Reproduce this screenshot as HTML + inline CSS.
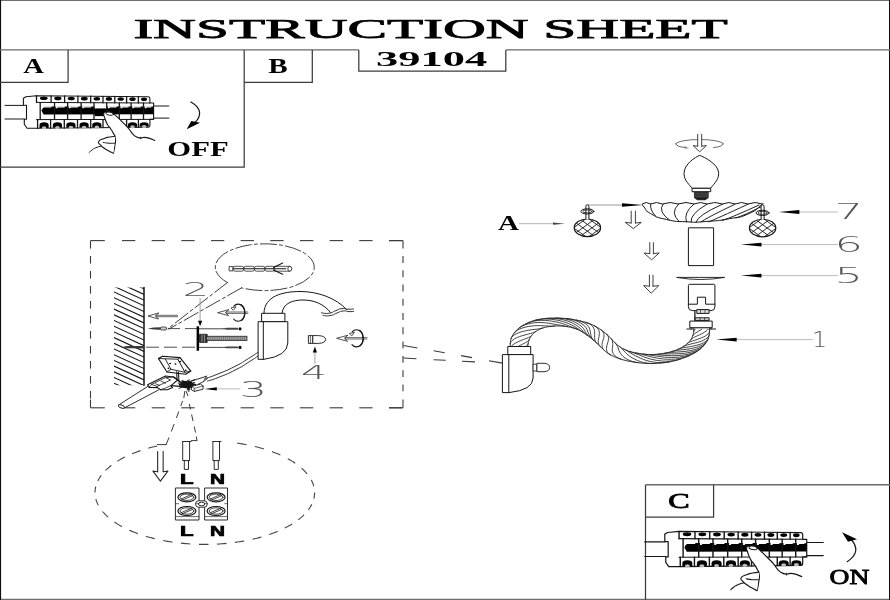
<!DOCTYPE html>
<html><head><meta charset="utf-8"><title>INSTRUCTION SHEET 39104</title>
<style>
html,body{margin:0;padding:0;background:#fff;}
body{width:890px;height:600px;overflow:hidden;}
svg{display:block;will-change:transform;}
.k{fill:none;stroke:#161616;stroke-width:1;stroke-linecap:round;stroke-linejoin:round;}
.kw{fill:#fff;stroke:#161616;stroke-width:1;stroke-linejoin:round;}
.kb{fill:#000;stroke:none;}
.t{fill:none;stroke:#2a2a2a;stroke-width:0.7;stroke-linecap:round;stroke-linejoin:round;}
.tw{fill:#fff;stroke:#2a2a2a;stroke-width:0.7;stroke-linejoin:round;}
.fr{fill:none;stroke:#3c3c3c;stroke-width:1.25;}
.g{fill:none;stroke:#b4b4b4;stroke-width:0.9;}
.d{fill:none;stroke:#3a3a3a;stroke-width:1.1;}
.serif{font-family:"Liberation Serif",serif;fill:#000;}
.sb{font-family:"Liberation Serif",serif;font-weight:bold;fill:#000;}
.sans{font-family:"Liberation Sans",sans-serif;font-weight:bold;fill:#000;}
.dg{font-family:"DejaVu Sans","Liberation Sans",sans-serif;font-weight:200;fill:#555;}
</style></head><body>
<svg width="890" height="600" viewBox="0 0 890 600">
<rect x="0" y="0" width="890" height="600" fill="#fff"/>
<line class="fr" x1="0" y1="0.5" x2="890" y2="0.5" style="stroke:#707070;stroke-width:1.2"/>
<line class="fr" x1="0" y1="599.4" x2="890" y2="599.4" style="stroke:#707070;stroke-width:1.2"/>
<line class="fr" x1="0.55" y1="0" x2="0.55" y2="600" style="stroke:#111;stroke-width:1.1"/>
<line class="fr" x1="889.5" y1="0" x2="889.5" y2="600" style="stroke:#111;stroke-width:1"/>
<path class="fr" d="M0,49.9 H358.8 M505.8,49.9 H890" style="stroke:#6a6a6a;stroke-width:1.4"/>
<path class="fr" d="M358.8,49.9 V71.2 H505.8 V49.9"/>
<path class="fr" d="M0,82.3 H68.1 V50"/>
<path class="fr" d="M0,167.2 H244.2 V50"/>
<path class="fr" d="M244.2,82.3 H312.3 V50"/>
<path class="fr" d="M645.5,484.8 H890" style="stroke:#6a6a6a;stroke-width:1.4"/>
<path class="fr" d="M645.5,600 V484.8"/>
<path class="fr" d="M645.5,517.2 H713.6 V484.8"/>
<text class="serif" x="133.4" y="38" font-size="27.8" textLength="594.4" lengthAdjust="spacingAndGlyphs" stroke="#000" stroke-width="0.75">INSTRUCTION SHEET</text>
<text class="sb" x="376" y="66.4" font-size="21.3" textLength="111.2" lengthAdjust="spacingAndGlyphs">39104</text>
<text class="sb" x="23.2" y="72.8" font-size="20.7" textLength="20.6" lengthAdjust="spacingAndGlyphs">A</text>
<text class="sb" x="268.2" y="72.7" font-size="20" textLength="19.4" lengthAdjust="spacingAndGlyphs">B</text>
<text class="serif" x="668.3" y="507.8" font-size="20.4" textLength="21.4" lengthAdjust="spacingAndGlyphs" stroke="#000" stroke-width="0.8">C</text>
<text class="sb" x="167.3" y="155.6" font-size="21.6" textLength="61.4" lengthAdjust="spacingAndGlyphs">OFF</text>
<text class="serif" x="829.6" y="583.5" font-size="20.5" textLength="39.8" lengthAdjust="spacingAndGlyphs" stroke="#000" stroke-width="0.8">ON</text>
<text class="sb" x="498" y="230" font-size="21" textLength="21" lengthAdjust="spacingAndGlyphs">A</text>
<g transform="">
<line class="k" x1="5" y1="105.4" x2="23.4" y2="105.4"/>
<line class="k" x1="5" y1="119" x2="24.3" y2="119"/>
<line class="k" x1="153.6" y1="106" x2="168.8" y2="106"/>
<line class="k" x1="153.6" y1="118.1" x2="168.8" y2="118.1"/>
<path class="kw" d="M26,96.7 L36.5,95.7 L148,96.8 Q149.9,96.8 149.9,98.6 L149.9,103 L153.6,103 L153.6,119.3 L149.9,119.3 L149.9,125.4 Q149.9,127.2 148,127.2 L37.6,128.3 L27,128.3 L24.3,124.3 L24.3,119.3 L26.5,119.3 L26.5,105.2 L23.4,105.2 L23.4,98.2 Z" style="stroke-width:1.1"/>
<line class="k" x1="36.5" y1="102.4" x2="149.9" y2="103"/>
<line class="k" x1="36.5" y1="95.7" x2="36.5" y2="102.4" style="stroke-width:1.3"/>
<ellipse class="kb" cx="43.8" cy="98.27" rx="3.91" ry="1.8"/>
<line class="k" x1="51.1" y1="95.84" x2="51.1" y2="102.48" style="stroke-width:1.3"/>
<ellipse class="kb" cx="57.85" cy="98.41" rx="3.62" ry="1.8"/>
<line class="k" x1="64.6" y1="95.97" x2="64.6" y2="102.55" style="stroke-width:1.3"/>
<ellipse class="kb" cx="71.25" cy="98.54" rx="3.56" ry="1.8"/>
<line class="k" x1="77.9" y1="96.1" x2="77.9" y2="102.62" style="stroke-width:1.3"/>
<ellipse class="kb" cx="84.3" cy="98.66" rx="3.43" ry="1.8"/>
<line class="k" x1="90.7" y1="96.23" x2="90.7" y2="102.69" style="stroke-width:1.3"/>
<ellipse class="kb" cx="96.85" cy="98.79" rx="3.3" ry="1.8"/>
<line class="k" x1="103" y1="96.35" x2="103" y2="102.75" style="stroke-width:1.3"/>
<ellipse class="kb" cx="108.9" cy="98.9" rx="3.16" ry="1.8"/>
<line class="k" x1="114.8" y1="96.46" x2="114.8" y2="102.82" style="stroke-width:1.3"/>
<ellipse class="kb" cx="120.7" cy="99.02" rx="3.16" ry="1.8"/>
<line class="k" x1="126.6" y1="96.58" x2="126.6" y2="102.88" style="stroke-width:1.3"/>
<ellipse class="kb" cx="132.5" cy="99.13" rx="3.16" ry="1.8"/>
<line class="k" x1="138.4" y1="96.69" x2="138.4" y2="102.94" style="stroke-width:1.3"/>
<ellipse class="kb" cx="144.05" cy="99.25" rx="3.03" ry="1.8"/>
<line class="k" x1="40.2" y1="102.7" x2="40.2" y2="119.3" style="stroke-width:1.3"/>
<line class="k" x1="36.5" y1="119.6" x2="153.6" y2="119.4"/>
<path class="kb" d="M43.6,106.4 L153.6,106.6 L153.6,114.3 L43.6,114.6 L41.4,110.5 Z"/>
<line class="k" x1="54.5" y1="102.9" x2="54.5" y2="119.3" style="stroke-width:1.3"/>
<line class="k" x1="67.6" y1="102.9" x2="67.6" y2="119.3" style="stroke-width:1.3"/>
<line class="k" x1="81.1" y1="102.9" x2="81.1" y2="119.3" style="stroke-width:1.3"/>
<line class="k" x1="94" y1="102.9" x2="94" y2="119.3" style="stroke-width:1.3"/>
<line class="k" x1="106.7" y1="102.9" x2="106.7" y2="119.3" style="stroke-width:1.3"/>
<line class="k" x1="119.3" y1="102.9" x2="119.3" y2="119.3" style="stroke-width:1.3"/>
<line class="k" x1="131.1" y1="102.9" x2="131.1" y2="119.3" style="stroke-width:1.3"/>
<line class="k" x1="143.5" y1="102.9" x2="143.5" y2="119.3" style="stroke-width:1.3"/>
<path class="kb" d="M41.4,106.2 L41.4,108.2 L42.8,108.2 L43.6,107.4 L51.35,107.4 L51.35,106.2 Z" style="fill:#fff"/>
<path class="kb" d="M55.7,106.2 L55.7,108.2 L57.1,108.2 L57.9,107.4 L64.72,107.4 L64.72,106.2 Z" style="fill:#fff"/>
<path class="kb" d="M68.8,106.2 L68.8,108.2 L70.2,108.2 L71,107.4 L78.13,107.4 L78.13,106.2 Z" style="fill:#fff"/>
<path class="kb" d="M82.3,106.2 L82.3,108.2 L83.7,108.2 L84.5,107.4 L91.16,107.4 L91.16,106.2 Z" style="fill:#fff"/>
<path class="kb" d="M95.2,106.2 L95.2,108.2 L96.6,108.2 L97.4,107.4 L103.91,107.4 L103.91,106.2 Z" style="fill:#fff"/>
<path class="kb" d="M107.9,106.2 L107.9,108.2 L109.3,108.2 L110.1,107.4 L116.53,107.4 L116.53,106.2 Z" style="fill:#fff"/>
<path class="kb" d="M120.5,106.2 L120.5,108.2 L121.9,108.2 L122.7,107.4 L128.5,107.4 L128.5,106.2 Z" style="fill:#fff"/>
<path class="kb" d="M132.3,106.2 L132.3,108.2 L133.7,108.2 L134.5,107.4 L140.77,107.4 L140.77,106.2 Z" style="fill:#fff"/>
<path class="kb" d="M144.7,106.2 L144.7,108.2 L146.1,108.2 L146.9,107.4 L151.38,107.4 L151.38,106.2 Z" style="fill:#fff"/>
<rect x="94.8" y="106.2" width="11.3" height="2.2" fill="#fff"/>
<rect x="94.8" y="113.5" width="11.3" height="2.6" fill="#000"/>
<line class="k" x1="37.6" y1="119.6" x2="37.6" y2="128.3" style="stroke-width:1.3"/>
<path class="kb" d="M39.5,127.93 L39.5,125 Q39.5,122.3 44.1,122.3 Q48.7,122.3 48.7,125 L48.7,127.93 Z"/>
<ellipse cx="44.1" cy="127.63" rx="2.3" ry="1.5" fill="#bbb"/>
<line class="k" x1="50.6" y1="119.6" x2="50.6" y2="128.16" style="stroke-width:1.3"/>
<path class="kb" d="M52.85,127.79 L52.85,125 Q52.85,122.3 57.45,122.3 Q62.05,122.3 62.05,125 L62.05,127.79 Z"/>
<ellipse cx="57.45" cy="127.49" rx="2.3" ry="1.5" fill="#bbb"/>
<line class="k" x1="64.3" y1="119.6" x2="64.3" y2="128.01" style="stroke-width:1.3"/>
<path class="kb" d="M66.3,127.64 L66.3,125 Q66.3,122.3 70.9,122.3 Q75.5,122.3 75.5,125 L75.5,127.64 Z"/>
<ellipse cx="70.9" cy="127.34" rx="2.3" ry="1.5" fill="#bbb"/>
<line class="k" x1="77.5" y1="119.6" x2="77.5" y2="127.87" style="stroke-width:1.3"/>
<path class="kb" d="M79.5,127.5 L79.5,125 Q79.5,122.3 84.1,122.3 Q88.7,122.3 88.7,125 L88.7,127.5 Z"/>
<ellipse cx="84.1" cy="127.2" rx="2.3" ry="1.5" fill="#bbb"/>
<line class="k" x1="90.7" y1="119.6" x2="90.7" y2="127.73" style="stroke-width:1.3"/>
<path class="kb" d="M92.25,127.37 L92.25,125 Q92.25,122.3 96.85,122.3 Q101.45,122.3 101.45,125 L101.45,127.37 Z"/>
<ellipse cx="96.85" cy="127.07" rx="2.3" ry="1.5" fill="#bbb"/>
<line class="k" x1="103" y1="119.6" x2="103" y2="127.6" style="stroke-width:1.3"/>
<line class="k" x1="114.8" y1="119.6" x2="114.8" y2="127.48" style="stroke-width:1.3"/>
<line class="k" x1="126.6" y1="119.6" x2="126.6" y2="127.35" style="stroke-width:1.3"/>
<path class="kb" d="M127.9,126.99 L127.9,125 Q127.9,122.3 132.5,122.3 Q137.1,122.3 137.1,125 L137.1,126.99 Z"/>
<ellipse cx="132.5" cy="126.69" rx="2.3" ry="1.5" fill="#bbb"/>
<line class="k" x1="138.4" y1="119.6" x2="138.4" y2="127.22" style="stroke-width:1.3"/>
<path class="kb" d="M139.55,126.86 L139.55,125 Q139.55,122.3 144.15,122.3 Q148.75,122.3 148.75,125 L148.75,126.86 Z"/>
<ellipse cx="144.15" cy="126.56" rx="2.3" ry="1.5" fill="#bbb"/>
</g>
<g transform="">
<path class="kb" d="M113.4,153.3 C113.9,150.67 114.23,150.37 114.9,145.4 C115.57,140.43 115.9,142.43 115.4,138.4 C114.9,134.37 115.1,136.67 113.4,133.3 C111.7,129.93 112.33,131.33 110.3,128.3 C108.27,125.27 109.13,127.6 107.3,124.2 C105.47,120.8 105.97,121.63 104.8,118.1 C103.63,114.57 103.4,115.63 103.8,113.6 C104.2,111.57 103.93,112.6 106,112 C108.07,111.4 107.37,111.1 110,111.8 C112.63,112.5 111.1,112 113.9,114.1 C116.7,116.2 115.2,115.07 118.4,118.1 C121.6,121.13 120.13,119.8 123.5,123.2 C126.87,126.6 125.47,124.77 128.5,128.3 C131.53,131.83 129.9,130.93 132.6,133.8 C135.3,136.67 133.9,135.53 136.6,136.9 C139.3,138.27 137.33,137.67 140.7,137.9 C144.07,138.13 142,136.77 146.7,137.6 C151.4,138.43 152.1,139.47 154.8,140.4 L150,156 L113.4,156 Z" style="fill:#fff"/>
<path class="k" d="M113.4,153.3 C113.9,150.67 114.23,150.37 114.9,145.4 C115.57,140.43 115.9,142.43 115.4,138.4 C114.9,134.37 115.1,136.67 113.4,133.3 C111.7,129.93 112.33,131.33 110.3,128.3 C108.27,125.27 109.13,127.6 107.3,124.2 C105.47,120.8 105.97,121.63 104.8,118.1 C103.63,114.57 103.4,115.63 103.8,113.6 C104.2,111.57 103.93,112.6 106,112 C108.07,111.4 107.37,111.1 110,111.8 C112.63,112.5 111.1,112 113.9,114.1 C116.7,116.2 115.2,115.07 118.4,118.1 C121.6,121.13 120.13,119.8 123.5,123.2 C126.87,126.6 125.47,124.77 128.5,128.3 C131.53,131.83 129.9,130.93 132.6,133.8 C135.3,136.67 133.9,135.53 136.6,136.9 C139.3,138.27 137.33,137.67 140.7,137.9 C144.07,138.13 142,136.77 146.7,137.6 C151.4,138.43 152.1,139.47 154.8,140.4" style="stroke-width:1.1"/>
<ellipse class="k" cx="109.8" cy="113.7" rx="3.9" ry="1.6" transform="rotate(8 109.8 113.7)" style="stroke-width:0.9"/>
<line class="k" x1="140.2" y1="137.3" x2="140.9" y2="138.8"/>
<path class="kw" d="M115.4,136.3 C113.43,136.53 113.2,136.3 109.5,137 C105.8,137.7 107.9,136.93 104.3,138.4 C100.7,139.87 99.97,139.2 98.7,141.4 C97.43,143.6 98.97,142.97 100.5,145 C102.03,147.03 100.8,145.67 103.3,147.5 C105.8,149.33 104.63,148.57 108,150.5 C111.37,152.43 111.6,152.37 113.4,153.3" style="stroke-width:1.1"/>
<path class="k" d="M103.3,142.4 C105.2,142.67 105.13,142.93 109,143.2 C112.87,143.47 112.93,143.2 114.9,143.2"/>
<path class="k" d="M89.1,152.5 C90.07,151.67 89.97,151.5 92,150 C94.03,148.5 92.13,149.33 95.2,148 C98.27,146.67 99.2,146.67 101.2,146"/>
</g>
<g transform="translate(639.29 428.06) scale(1.09 1.08)">
<line class="k" x1="5" y1="105.4" x2="23.4" y2="105.4"/>
<line class="k" x1="5" y1="119" x2="24.3" y2="119"/>
<line class="k" x1="153.6" y1="106" x2="168.8" y2="106"/>
<line class="k" x1="153.6" y1="118.1" x2="168.8" y2="118.1"/>
<path class="kw" d="M26,96.7 L36.5,95.7 L148,96.8 Q149.9,96.8 149.9,98.6 L149.9,103 L153.6,103 L153.6,119.3 L149.9,119.3 L149.9,125.4 Q149.9,127.2 148,127.2 L37.6,128.3 L27,128.3 L24.3,124.3 L24.3,119.3 L26.5,119.3 L26.5,105.2 L23.4,105.2 L23.4,98.2 Z" style="stroke-width:1.1"/>
<line class="k" x1="36.5" y1="102.4" x2="149.9" y2="103"/>
<line class="k" x1="36.5" y1="95.7" x2="36.5" y2="102.4" style="stroke-width:1.3"/>
<ellipse class="kb" cx="43.8" cy="98.27" rx="3.91" ry="1.8"/>
<line class="k" x1="51.1" y1="95.84" x2="51.1" y2="102.48" style="stroke-width:1.3"/>
<ellipse class="kb" cx="57.85" cy="98.41" rx="3.62" ry="1.8"/>
<line class="k" x1="64.6" y1="95.97" x2="64.6" y2="102.55" style="stroke-width:1.3"/>
<ellipse class="kb" cx="71.25" cy="98.54" rx="3.56" ry="1.8"/>
<line class="k" x1="77.9" y1="96.1" x2="77.9" y2="102.62" style="stroke-width:1.3"/>
<ellipse class="kb" cx="84.3" cy="98.66" rx="3.43" ry="1.8"/>
<line class="k" x1="90.7" y1="96.23" x2="90.7" y2="102.69" style="stroke-width:1.3"/>
<ellipse class="kb" cx="96.85" cy="98.79" rx="3.3" ry="1.8"/>
<line class="k" x1="103" y1="96.35" x2="103" y2="102.75" style="stroke-width:1.3"/>
<ellipse class="kb" cx="108.9" cy="98.9" rx="3.16" ry="1.8"/>
<line class="k" x1="114.8" y1="96.46" x2="114.8" y2="102.82" style="stroke-width:1.3"/>
<ellipse class="kb" cx="120.7" cy="99.02" rx="3.16" ry="1.8"/>
<line class="k" x1="126.6" y1="96.58" x2="126.6" y2="102.88" style="stroke-width:1.3"/>
<ellipse class="kb" cx="132.5" cy="99.13" rx="3.16" ry="1.8"/>
<line class="k" x1="138.4" y1="96.69" x2="138.4" y2="102.94" style="stroke-width:1.3"/>
<ellipse class="kb" cx="144.05" cy="99.25" rx="3.03" ry="1.8"/>
<line class="k" x1="40.2" y1="102.7" x2="40.2" y2="119.3" style="stroke-width:1.3"/>
<line class="k" x1="36.5" y1="119.6" x2="153.6" y2="119.4"/>
<path class="kb" d="M43.6,106.4 L153.6,106.6 L153.6,114.3 L43.6,114.6 L41.4,110.5 Z"/>
<line class="k" x1="54.5" y1="102.9" x2="54.5" y2="119.3" style="stroke-width:1.3"/>
<line class="k" x1="67.6" y1="102.9" x2="67.6" y2="119.3" style="stroke-width:1.3"/>
<line class="k" x1="81.1" y1="102.9" x2="81.1" y2="119.3" style="stroke-width:1.3"/>
<line class="k" x1="94" y1="102.9" x2="94" y2="119.3" style="stroke-width:1.3"/>
<line class="k" x1="106.7" y1="102.9" x2="106.7" y2="119.3" style="stroke-width:1.3"/>
<line class="k" x1="119.3" y1="102.9" x2="119.3" y2="119.3" style="stroke-width:1.3"/>
<line class="k" x1="131.1" y1="102.9" x2="131.1" y2="119.3" style="stroke-width:1.3"/>
<line class="k" x1="143.5" y1="102.9" x2="143.5" y2="119.3" style="stroke-width:1.3"/>
<path class="kb" d="M41.4,106.2 L41.4,108.2 L42.8,108.2 L43.6,107.4 L51.35,107.4 L51.35,106.2 Z" style="fill:#fff"/>
<path class="kb" d="M55.7,106.2 L55.7,108.2 L57.1,108.2 L57.9,107.4 L64.72,107.4 L64.72,106.2 Z" style="fill:#fff"/>
<path class="kb" d="M68.8,106.2 L68.8,108.2 L70.2,108.2 L71,107.4 L78.13,107.4 L78.13,106.2 Z" style="fill:#fff"/>
<path class="kb" d="M82.3,106.2 L82.3,108.2 L83.7,108.2 L84.5,107.4 L91.16,107.4 L91.16,106.2 Z" style="fill:#fff"/>
<path class="kb" d="M95.2,106.2 L95.2,108.2 L96.6,108.2 L97.4,107.4 L103.91,107.4 L103.91,106.2 Z" style="fill:#fff"/>
<path class="kb" d="M107.9,106.2 L107.9,108.2 L109.3,108.2 L110.1,107.4 L116.53,107.4 L116.53,106.2 Z" style="fill:#fff"/>
<path class="kb" d="M120.5,106.2 L120.5,108.2 L121.9,108.2 L122.7,107.4 L128.5,107.4 L128.5,106.2 Z" style="fill:#fff"/>
<path class="kb" d="M132.3,106.2 L132.3,108.2 L133.7,108.2 L134.5,107.4 L140.77,107.4 L140.77,106.2 Z" style="fill:#fff"/>
<path class="kb" d="M144.7,106.2 L144.7,108.2 L146.1,108.2 L146.9,107.4 L151.38,107.4 L151.38,106.2 Z" style="fill:#fff"/>
<line class="k" x1="37.6" y1="119.6" x2="37.6" y2="128.3" style="stroke-width:1.3"/>
<path class="kb" d="M39.5,127.93 L39.5,125 Q39.5,122.3 44.1,122.3 Q48.7,122.3 48.7,125 L48.7,127.93 Z"/>
<ellipse cx="44.1" cy="127.63" rx="2.3" ry="1.5" fill="#bbb"/>
<line class="k" x1="50.6" y1="119.6" x2="50.6" y2="128.16" style="stroke-width:1.3"/>
<path class="kb" d="M52.85,127.79 L52.85,125 Q52.85,122.3 57.45,122.3 Q62.05,122.3 62.05,125 L62.05,127.79 Z"/>
<ellipse cx="57.45" cy="127.49" rx="2.3" ry="1.5" fill="#bbb"/>
<line class="k" x1="64.3" y1="119.6" x2="64.3" y2="128.01" style="stroke-width:1.3"/>
<path class="kb" d="M66.3,127.64 L66.3,125 Q66.3,122.3 70.9,122.3 Q75.5,122.3 75.5,125 L75.5,127.64 Z"/>
<ellipse cx="70.9" cy="127.34" rx="2.3" ry="1.5" fill="#bbb"/>
<line class="k" x1="77.5" y1="119.6" x2="77.5" y2="127.87" style="stroke-width:1.3"/>
<path class="kb" d="M79.5,127.5 L79.5,125 Q79.5,122.3 84.1,122.3 Q88.7,122.3 88.7,125 L88.7,127.5 Z"/>
<ellipse cx="84.1" cy="127.2" rx="2.3" ry="1.5" fill="#bbb"/>
<line class="k" x1="90.7" y1="119.6" x2="90.7" y2="127.73" style="stroke-width:1.3"/>
<path class="kb" d="M92.25,127.37 L92.25,125 Q92.25,122.3 96.85,122.3 Q101.45,122.3 101.45,125 L101.45,127.37 Z"/>
<ellipse cx="96.85" cy="127.07" rx="2.3" ry="1.5" fill="#bbb"/>
<line class="k" x1="103" y1="119.6" x2="103" y2="127.6" style="stroke-width:1.3"/>
<line class="k" x1="114.8" y1="119.6" x2="114.8" y2="127.48" style="stroke-width:1.3"/>
<line class="k" x1="126.6" y1="119.6" x2="126.6" y2="127.35" style="stroke-width:1.3"/>
<path class="kb" d="M127.9,126.99 L127.9,125 Q127.9,122.3 132.5,122.3 Q137.1,122.3 137.1,125 L137.1,126.99 Z"/>
<ellipse cx="132.5" cy="126.69" rx="2.3" ry="1.5" fill="#bbb"/>
<line class="k" x1="138.4" y1="119.6" x2="138.4" y2="127.22" style="stroke-width:1.3"/>
<path class="kb" d="M139.55,126.86 L139.55,125 Q139.55,122.3 144.15,122.3 Q148.75,122.3 148.75,125 L148.75,126.86 Z"/>
<ellipse cx="144.15" cy="126.56" rx="2.3" ry="1.5" fill="#bbb"/>
</g>
<g transform="translate(634.58 425.04) scale(1.08)">
<path class="kb" d="M113.4,153.3 C113.9,150.67 114.23,150.37 114.9,145.4 C115.57,140.43 115.9,142.43 115.4,138.4 C114.9,134.37 115.1,136.67 113.4,133.3 C111.7,129.93 112.33,131.33 110.3,128.3 C108.27,125.27 109.13,127.6 107.3,124.2 C105.47,120.8 105.97,121.63 104.8,118.1 C103.63,114.57 103.4,115.63 103.8,113.6 C104.2,111.57 103.93,112.6 106,112 C108.07,111.4 107.37,111.1 110,111.8 C112.63,112.5 111.1,112 113.9,114.1 C116.7,116.2 115.2,115.07 118.4,118.1 C121.6,121.13 120.13,119.8 123.5,123.2 C126.87,126.6 125.47,124.77 128.5,128.3 C131.53,131.83 129.9,130.93 132.6,133.8 C135.3,136.67 133.9,135.53 136.6,136.9 C139.3,138.27 137.33,137.67 140.7,137.9 C144.07,138.13 142,136.77 146.7,137.6 C151.4,138.43 152.1,139.47 154.8,140.4 L150,156 L113.4,156 Z" style="fill:#fff"/>
<path class="k" d="M113.4,153.3 C113.9,150.67 114.23,150.37 114.9,145.4 C115.57,140.43 115.9,142.43 115.4,138.4 C114.9,134.37 115.1,136.67 113.4,133.3 C111.7,129.93 112.33,131.33 110.3,128.3 C108.27,125.27 109.13,127.6 107.3,124.2 C105.47,120.8 105.97,121.63 104.8,118.1 C103.63,114.57 103.4,115.63 103.8,113.6 C104.2,111.57 103.93,112.6 106,112 C108.07,111.4 107.37,111.1 110,111.8 C112.63,112.5 111.1,112 113.9,114.1 C116.7,116.2 115.2,115.07 118.4,118.1 C121.6,121.13 120.13,119.8 123.5,123.2 C126.87,126.6 125.47,124.77 128.5,128.3 C131.53,131.83 129.9,130.93 132.6,133.8 C135.3,136.67 133.9,135.53 136.6,136.9 C139.3,138.27 137.33,137.67 140.7,137.9 C144.07,138.13 142,136.77 146.7,137.6 C151.4,138.43 152.1,139.47 154.8,140.4" style="stroke-width:1.1"/>
<ellipse class="k" cx="109.8" cy="113.7" rx="3.9" ry="1.6" transform="rotate(8 109.8 113.7)" style="stroke-width:0.9"/>
<line class="k" x1="140.2" y1="137.3" x2="140.9" y2="138.8"/>
<path class="kw" d="M115.4,136.3 C113.43,136.53 113.2,136.3 109.5,137 C105.8,137.7 107.9,136.93 104.3,138.4 C100.7,139.87 99.97,139.2 98.7,141.4 C97.43,143.6 98.97,142.97 100.5,145 C102.03,147.03 100.8,145.67 103.3,147.5 C105.8,149.33 104.63,148.57 108,150.5 C111.37,152.43 111.6,152.37 113.4,153.3" style="stroke-width:1.1"/>
<path class="k" d="M103.3,142.4 C105.2,142.67 105.13,142.93 109,143.2 C112.87,143.47 112.93,143.2 114.9,143.2"/>
<path class="k" d="M89.1,152.5 C90.07,151.67 89.97,151.5 92,150 C94.03,148.5 92.13,149.33 95.2,148 C98.27,146.67 99.2,146.67 101.2,146"/>
</g>
<path class="k" d="M190.9,102 Q199,106.5 199.6,112.7 Q199.8,118 195.3,122" style="stroke-width:1.2"/>
<path class="kb" d="M186.7,129.3 L191.3,120.9 L200,122.7 Z"/>
<path class="k" d="M847.2,561.7 Q855,556.5 855.8,550.5 Q856,545 851.7,540" style="stroke-width:1.2"/>
<path class="kb" d="M842,532.2 L857,539.2 L848,541.8 Z"/>
<path class="t" d="M675.8,143.8 A23.8,4.6 0 0 1 723.3,143.8"/>
<path class="t" d="M675.8,143.8 Q676.5,147 686,147.6"/>
<path class="t" d="M723.3,143.8 Q722.6,147 713.5,147.5"/>
<path class="t" d="M684.5,146.2 L688.5,148 L684.8,148.8" style="stroke:#999"/>
<rect x="697.6" y="134.2" width="4.2" height="12.4" fill="#fff"/>
<path class="t" d="M697.7,134.3 V146.2" style="stroke-width:0.9"/>
<path class="t" d="M701.7,134.3 V146.2" style="stroke-width:0.9"/>
<path class="t" d="M697.7,146.2 L693.1,145.6 L699.7,151.8 L706.3,145.6 L701.7,146.2" style="stroke-width:0.9"/>
<path class="kw" d="M699.7,155.4 C704,157 718.7,164 718.7,173.5 C718.7,181 712,185.5 710.7,188.3 H692 C690.5,185.5 684,181 684,173.5 C684,164 695.5,157 699.7,155.4 Z"/>
<rect class="kw" x="692" y="188.3" width="18.7" height="3.4"/>
<path class="kb" d="M694,191.7 H708.7 V197.7 L705.3,200.3 H697.3 L694,197.7 Z" style="fill:#222"/>
<line class="t" x1="694" y1="193.2" x2="708.7" y2="193.2" style="stroke:#777;stroke-width:0.5"/>
<line class="t" x1="694" y1="194.9" x2="708.7" y2="194.9" style="stroke:#777;stroke-width:0.5"/>
<line class="t" x1="694" y1="196.6" x2="708.7" y2="196.6" style="stroke:#777;stroke-width:0.5"/>
<path class="kw" d="M642.1,204 Q646.3,201 650.5,204 Q656.5,201 662.5,204 Q670.25,201 678,204 Q686,201 694,204 Q700.5,201 707,204 Q714.75,201 722.5,204 Q728.75,201 735,204 Q741.5,201 748,204 Q755.2,201 762.4,204 L762.4,204 C761.87,204.47 765.5,202.1 760.8,205.4 C756.1,208.7 758.77,209.47 748.3,213.9 C737.83,218.33 743.57,216.17 729.4,218.7 C715.23,221.23 719.97,220.47 705.8,221.5 C691.63,222.53 700,222.47 686.9,221.8 C673.8,221.13 678.57,222.23 666.5,219.5 C654.43,216.77 658.2,217.77 650.7,213.6 C643.2,209.43 646.87,210.2 644,207 C641.13,203.8 642.73,205 642.1,204 Z"/>
<path class="k" d="M650.7,204.2 Q649.5,210 655.6,216" style="stroke-width:0.95"/>
<path class="k" d="M663,204.2 Q657.5,211.5 669.6,220.2" style="stroke-width:0.95"/>
<path class="k" d="M678.6,204.2 Q669.5,212.5 679,221.4" style="stroke-width:0.95"/>
<path class="k" d="M694,204 Q683,213 686.5,221.8" style="stroke-width:0.95"/>
<path class="k" d="M707,204.2 Q690,214 691,221.9" style="stroke-width:0.95"/>
<path class="k" d="M722.5,204.2 Q698,215 696,222" style="stroke-width:0.95"/>
<path class="k" d="M735,204.2 Q706,218 701,222" style="stroke-width:0.95"/>
<path class="k" d="M748,204.2 Q716,219 709,221.8" style="stroke-width:0.95"/>
<path class="k" d="M759,205 Q733,217 722,220.6" style="stroke-width:0.95"/>
<path class="k" d="M761.5,206.5 Q745,215 736,218" style="stroke-width:0.95"/>
<clipPath id="cc1"><ellipse cx="587.4" cy="227.8" rx="13.2" ry="8.8"/></clipPath>
<ellipse cx="587.4" cy="227.8" rx="13.2" ry="8.8" fill="#fff"/>
<g clip-path="url(#cc1)">
<line class="k" x1="527.6" y1="241.2" x2="564.4" y2="214.4" style="stroke-width:0.9"/>
<line class="k" x1="527.6" y1="214.4" x2="564.4" y2="241.2" style="stroke-width:0.9"/>
<line class="k" x1="536.8" y1="241.2" x2="573.6" y2="214.4" style="stroke-width:0.9"/>
<line class="k" x1="536.8" y1="214.4" x2="573.6" y2="241.2" style="stroke-width:0.9"/>
<line class="k" x1="546" y1="241.2" x2="582.8" y2="214.4" style="stroke-width:0.9"/>
<line class="k" x1="546" y1="214.4" x2="582.8" y2="241.2" style="stroke-width:0.9"/>
<line class="k" x1="555.2" y1="241.2" x2="592" y2="214.4" style="stroke-width:0.9"/>
<line class="k" x1="555.2" y1="214.4" x2="592" y2="241.2" style="stroke-width:0.9"/>
<line class="k" x1="564.4" y1="241.2" x2="601.2" y2="214.4" style="stroke-width:0.9"/>
<line class="k" x1="564.4" y1="214.4" x2="601.2" y2="241.2" style="stroke-width:0.9"/>
<line class="k" x1="573.6" y1="241.2" x2="610.4" y2="214.4" style="stroke-width:0.9"/>
<line class="k" x1="573.6" y1="214.4" x2="610.4" y2="241.2" style="stroke-width:0.9"/>
<line class="k" x1="582.8" y1="241.2" x2="619.6" y2="214.4" style="stroke-width:0.9"/>
<line class="k" x1="582.8" y1="214.4" x2="619.6" y2="241.2" style="stroke-width:0.9"/>
<line class="k" x1="592" y1="241.2" x2="628.8" y2="214.4" style="stroke-width:0.9"/>
<line class="k" x1="592" y1="214.4" x2="628.8" y2="241.2" style="stroke-width:0.9"/>
<line class="k" x1="601.2" y1="241.2" x2="638" y2="214.4" style="stroke-width:0.9"/>
<line class="k" x1="601.2" y1="214.4" x2="638" y2="241.2" style="stroke-width:0.9"/>
<line class="k" x1="610.4" y1="241.2" x2="647.2" y2="214.4" style="stroke-width:0.9"/>
<line class="k" x1="610.4" y1="214.4" x2="647.2" y2="241.2" style="stroke-width:0.9"/>
<line class="k" x1="619.6" y1="241.2" x2="656.4" y2="214.4" style="stroke-width:0.9"/>
<line class="k" x1="619.6" y1="214.4" x2="656.4" y2="241.2" style="stroke-width:0.9"/>
</g>
<ellipse class="k" cx="587.4" cy="227.8" rx="13.2" ry="8.8" style="stroke-width:1.15"/>
<path class="kw" d="M585.9,219.5 V206.4 Q585.9,204.8 587.4,204.8 Q588.9,204.8 588.9,206.4 V219.5" style="stroke-width:1"/>
<ellipse class="k" cx="587.4" cy="211.4" rx="6.5" ry="2.6" style="stroke-width:1"/>
<ellipse class="k" cx="587.4" cy="211.4" rx="4.6" ry="1.5" style="stroke-width:0.8"/>
<clipPath id="cc2"><ellipse cx="762.6" cy="228" rx="13.2" ry="8.8"/></clipPath>
<ellipse cx="762.6" cy="228" rx="13.2" ry="8.8" fill="#fff"/>
<g clip-path="url(#cc2)">
<line class="k" x1="702.8" y1="241.4" x2="739.6" y2="214.6" style="stroke-width:0.9"/>
<line class="k" x1="702.8" y1="214.6" x2="739.6" y2="241.4" style="stroke-width:0.9"/>
<line class="k" x1="712" y1="241.4" x2="748.8" y2="214.6" style="stroke-width:0.9"/>
<line class="k" x1="712" y1="214.6" x2="748.8" y2="241.4" style="stroke-width:0.9"/>
<line class="k" x1="721.2" y1="241.4" x2="758" y2="214.6" style="stroke-width:0.9"/>
<line class="k" x1="721.2" y1="214.6" x2="758" y2="241.4" style="stroke-width:0.9"/>
<line class="k" x1="730.4" y1="241.4" x2="767.2" y2="214.6" style="stroke-width:0.9"/>
<line class="k" x1="730.4" y1="214.6" x2="767.2" y2="241.4" style="stroke-width:0.9"/>
<line class="k" x1="739.6" y1="241.4" x2="776.4" y2="214.6" style="stroke-width:0.9"/>
<line class="k" x1="739.6" y1="214.6" x2="776.4" y2="241.4" style="stroke-width:0.9"/>
<line class="k" x1="748.8" y1="241.4" x2="785.6" y2="214.6" style="stroke-width:0.9"/>
<line class="k" x1="748.8" y1="214.6" x2="785.6" y2="241.4" style="stroke-width:0.9"/>
<line class="k" x1="758" y1="241.4" x2="794.8" y2="214.6" style="stroke-width:0.9"/>
<line class="k" x1="758" y1="214.6" x2="794.8" y2="241.4" style="stroke-width:0.9"/>
<line class="k" x1="767.2" y1="241.4" x2="804" y2="214.6" style="stroke-width:0.9"/>
<line class="k" x1="767.2" y1="214.6" x2="804" y2="241.4" style="stroke-width:0.9"/>
<line class="k" x1="776.4" y1="241.4" x2="813.2" y2="214.6" style="stroke-width:0.9"/>
<line class="k" x1="776.4" y1="214.6" x2="813.2" y2="241.4" style="stroke-width:0.9"/>
<line class="k" x1="785.6" y1="241.4" x2="822.4" y2="214.6" style="stroke-width:0.9"/>
<line class="k" x1="785.6" y1="214.6" x2="822.4" y2="241.4" style="stroke-width:0.9"/>
<line class="k" x1="794.8" y1="241.4" x2="831.6" y2="214.6" style="stroke-width:0.9"/>
<line class="k" x1="794.8" y1="214.6" x2="831.6" y2="241.4" style="stroke-width:0.9"/>
</g>
<ellipse class="k" cx="762.6" cy="228" rx="13.2" ry="8.8" style="stroke-width:1.15"/>
<path class="kw" d="M761.1,219.7 V206.4 Q761.1,204.8 762.6,204.8 Q764.1,204.8 764.1,206.4 V219.7" style="stroke-width:1"/>
<ellipse class="k" cx="762.6" cy="212.9" rx="6.5" ry="2.6" style="stroke-width:1"/>
<ellipse class="k" cx="762.6" cy="212.9" rx="4.6" ry="1.5" style="stroke-width:0.8"/>
<line class="t" x1="588" y1="205" x2="622" y2="205" style="stroke:#555;stroke-width:0.6"/>
<path class="kb" d="M643,205 L622,203.3 L622,206.7 Z"/>
<line class="g" x1="519" y1="223.7" x2="553" y2="223.7" style="stroke:#aaa"/>
<path class="kb" d="M565,223.7 L553,222.6 L553,224.8 Z" style="fill:#444"/>
<path class="t" d="M631.2,211.2 V223" style="stroke-width:0.9"/>
<path class="t" d="M635.4,211.2 V223" style="stroke-width:0.9"/>
<path class="t" d="M631.2,223 L625.3,222.4 L633.3,228.6 L641.3,222.4 L635.4,223" style="stroke-width:0.9"/>
<path class="t" d="M649.8,242.6 V253.6" style="stroke-width:0.9"/>
<path class="t" d="M653.4,242.6 V253.6" style="stroke-width:0.9"/>
<path class="t" d="M649.8,253.6 L644,253 L651.6,259.8 L659.2,253 L653.4,253.6" style="stroke-width:0.9"/>
<path class="t" d="M649.4,275.2 V286.2" style="stroke-width:0.9"/>
<path class="t" d="M653,275.2 V286.2" style="stroke-width:0.9"/>
<path class="t" d="M649.4,286.2 L643.6,285.6 L651.2,293.2 L658.8,285.6 L653,286.2" style="stroke-width:0.9"/>
<rect class="kw" x="688.4" y="227.8" width="25.2" height="37.8"/>
<path class="kw" d="M676.6,277.4 H724.6 Q700.5,281.6 676.6,277.4 Z" style="stroke-width:0.9"/>
<path class="kw" d="M689.6,284.3 H713.7 Q714.9,284.3 714.9,285.5 V306.8 Q714.9,310.6 711,310.6 H692.3 Q688.4,310.6 688.4,306.8 V285.5 Q688.4,284.3 689.6,284.3 Z"/>
<path class="k" d="M688.4,304.2 H697.4 V297.2 H705.6 V304.2 H714.9"/>
<rect x="695" y="310.8" width="14" height="10" fill="#fff"/>
<line class="k" x1="694.9" y1="310.6" x2="694.9" y2="321" style="stroke-width:1.3"/>
<rect class="kw" x="696.8" y="309.6" width="12.3" height="3.8" style="fill:#ddd"/>
<line class="t" x1="700.5" y1="309.6" x2="700.5" y2="313.4"/>
<line class="t" x1="705" y1="309.6" x2="705" y2="313.4"/>
<rect class="kw" x="695.2" y="317.8" width="13.9" height="2.6" style="fill:#ddd"/>
<line class="t" x1="700" y1="317.8" x2="700" y2="320.4"/>
<line class="t" x1="704.5" y1="317.8" x2="704.5" y2="320.4"/>
<rect class="kw" x="689.8" y="321.1" width="22.4" height="6.6"/>
<line class="k" x1="686.9" y1="329" x2="715.5" y2="329" style="stroke-width:1.2"/>
<line class="k" x1="691" y1="327.7" x2="691" y2="329"/>
<line class="k" x1="711" y1="327.7" x2="711" y2="329"/>
<line class="g" x1="799.4" y1="212" x2="838" y2="212"/>
<path class="kb" d="M778.8,212 L799.4,210.1 L799.4,213.9 Z"/>
<line class="g" x1="761.5" y1="244.6" x2="838" y2="244.6"/>
<path class="kb" d="M741,244.6 L761.5,242.7 L761.5,246.5 Z"/>
<line class="g" x1="761.5" y1="275.6" x2="838" y2="275.6"/>
<path class="kb" d="M741,275.6 L761.5,273.7 L761.5,277.5 Z"/>
<line class="g" x1="736.7" y1="339.6" x2="813" y2="339.6"/>
<path class="kb" d="M716.3,339.6 L736.7,337.7 L736.7,341.5 Z"/>
<path class="kb" d="M510.17,346.82 L510.18,346.46 L510.18,346.09 L510.19,345.72 L510.2,345.35 L510.2,344.96 L510.22,344.57 L510.23,344.18 L510.25,343.78 L510.28,343.38 L510.31,342.96 L510.36,342.55 L510.41,342.14 L510.46,341.74 L510.52,341.35 L510.58,340.95 L510.65,340.55 L510.72,340.14 L510.8,339.73 L510.9,339.31 L511,338.89 L511.14,338.46 L511.3,338.02 L511.48,337.58 L511.67,337.14 L511.88,336.7 L512.09,336.26 L512.32,335.84 L512.57,335.41 L512.82,334.99 L513.08,334.58 L513.35,334.17 L513.63,333.77 L513.92,333.37 L514.21,332.96 L514.52,332.56 L514.85,332.15 L515.19,331.75 L515.53,331.35 L515.89,330.96 L516.26,330.57 L516.65,330.18 L517.05,329.8 L517.45,329.42 L517.87,329.04 L518.31,328.66 L518.76,328.28 L519.22,327.91 L519.7,327.53 L520.2,327.16 L520.71,326.78 L521.24,326.41 L521.8,326.05 L522.37,325.68 L522.97,325.32 L523.58,324.97 L524.19,324.63 L524.81,324.31 L525.43,323.99 L526.05,323.69 L526.67,323.4 L527.29,323.12 L527.92,322.84 L528.56,322.56 L529.22,322.29 L529.91,322.01 L530.62,321.73 L531.37,321.46 L532.15,321.19 L532.94,320.93 L533.73,320.68 L534.53,320.45 L535.32,320.24 L536.13,320.03 L536.94,319.83 L537.77,319.64 L538.61,319.47 L539.46,319.3 L540.33,319.14 L541.2,318.99 L542.08,318.86 L542.94,318.75 L543.8,318.66 L544.64,318.57 L545.47,318.49 L546.29,318.43 L547.1,318.37 L547.9,318.31 L548.71,318.26 L549.52,318.22 L550.34,318.18 L551.15,318.15 L551.96,318.12 L552.76,318.1 L553.56,318.08 L554.37,318.07 L555.17,318.07 L555.98,318.07 L556.79,318.07 L557.61,318.09 L558.43,318.1 L559.25,318.12 L560.08,318.15 L560.91,318.18 L561.73,318.22 L562.56,318.26 L563.37,318.32 L564.18,318.38 L564.99,318.45 L565.79,318.52 L566.6,318.6 L567.42,318.68 L568.24,318.76 L569.05,318.86 L569.87,318.96 L570.69,319.07 L571.51,319.2 L572.32,319.33 L573.11,319.46 L573.89,319.61 L574.66,319.75 L575.41,319.9 L576.16,320.05 L576.89,320.2 L577.61,320.35 L578.33,320.51 L579.04,320.67 L579.76,320.84 L580.48,321.01 L581.2,321.19 L581.93,321.37 L582.67,321.55 L583.41,321.74 L584.16,321.94 L584.9,322.14 L585.64,322.35 L586.38,322.58 L587.1,322.8 L587.83,323.04 L588.55,323.29 L589.27,323.55 L589.97,323.82 L590.67,324.09 L591.35,324.38 L592.02,324.67 L592.69,324.98 L593.34,325.28 L593.97,325.6 L594.57,325.91 L595.15,326.21 L595.71,326.52 L596.23,326.82 L596.74,327.12 L597.24,327.41 L597.73,327.71 L598.23,328.01 L598.72,328.31 L599.21,328.61 L599.7,328.92 L600.19,329.23 L600.66,329.55 L601.13,329.87 L601.59,330.2 L602.05,330.54 L602.5,330.87 L602.94,331.21 L603.37,331.54 L603.8,331.87 L604.22,332.21 L604.63,332.54 L605.04,332.88 L605.45,333.21 L605.85,333.55 L606.24,333.89 L606.63,334.23 L607.02,334.57 L607.4,334.91 L607.78,335.25 L608.17,335.6 L608.55,335.95 L608.91,336.31 L609.26,336.66 L609.6,337.02 L609.93,337.37 L610.25,337.72 L610.57,338.06 L610.88,338.4 L611.19,338.73 L611.49,339.07 L611.79,339.4 L612.09,339.72 L612.38,340.04 L612.68,340.36 L612.99,340.69 L613.31,341.03 L613.63,341.37 L613.94,341.71 L614.25,342.05 L614.56,342.38 L614.86,342.71 L615.17,343.02 L615.5,343.32 L615.83,343.61 L616.16,343.9 L616.48,344.18 L616.81,344.45 L617.14,344.72 L617.5,345 L617.88,345.29 L618.26,345.6 L618.65,345.9 L619.02,346.19 L619.38,346.47 L619.72,346.73 L620.05,346.97 L620.38,347.2 L620.7,347.42 L621.02,347.62 L621.33,347.8 L621.65,347.98 L621.97,348.16 L622.3,348.35 L622.66,348.53 L623.04,348.73 L623.45,348.93 L623.88,349.13 L624.31,349.33 L624.76,349.54 L625.21,349.73 L625.67,349.93 L626.14,350.12 L626.61,350.32 L627.09,350.5 L627.56,350.69 L628.04,350.87 L628.51,351.04 L628.99,351.2 L629.46,351.36 L629.92,351.51 L630.37,351.66 L630.83,351.79 L631.29,351.92 L631.76,352.05 L632.24,352.17 L632.72,352.29 L633.22,352.41 L633.74,352.52 L634.27,352.63 L634.81,352.74 L635.37,352.85 L635.94,352.95 L636.53,353.06 L637.13,353.17 L637.74,353.27 L638.35,353.37 L638.95,353.47 L639.55,353.56 L640.15,353.65 L640.74,353.74 L641.33,353.83 L641.92,353.9 L642.5,353.98 L643.08,354.05 L643.66,354.12 L644.23,354.18 L644.8,354.23 L645.36,354.29 L645.91,354.33 L646.46,354.37 L647.01,354.41 L647.56,354.44 L648.12,354.46 L648.68,354.48 L649.25,354.5 L649.82,354.51 L650.4,354.52 L650.98,354.52 L651.56,354.52 L652.14,354.52 L652.72,354.51 L653.31,354.49 L653.89,354.47 L654.47,354.45 L655.04,354.42 L655.61,354.39 L656.18,354.36 L656.73,354.32 L657.28,354.28 L657.82,354.23 L658.36,354.17 L658.91,354.11 L659.46,354.05 L660.01,353.98 L660.56,353.9 L661.12,353.82 L661.67,353.74 L662.24,353.65 L662.8,353.55 L663.37,353.45 L663.93,353.35 L664.5,353.25 L665.05,353.15 L665.6,353.05 L666.13,352.94 L666.67,352.83 L667.2,352.71 L667.74,352.59 L668.27,352.46 L668.81,352.33 L669.35,352.2 L669.88,352.06 L670.42,351.91 L670.95,351.77 L671.48,351.62 L672.01,351.46 L672.53,351.3 L673.04,351.14 L673.55,350.98 L674.05,350.82 L674.54,350.65 L675.02,350.48 L675.5,350.3 L675.97,350.11 L676.44,349.93 L676.91,349.74 L677.37,349.54 L677.83,349.34 L678.28,349.14 L678.74,348.93 L679.18,348.73 L679.63,348.51 L680.07,348.3 L680.5,348.08 L680.93,347.85 L681.36,347.63 L681.78,347.4 L682.19,347.17 L682.6,346.94 L683,346.71 L683.39,346.47 L683.77,346.24 L684.14,346 L684.5,345.77 L684.85,345.54 L685.17,345.31 L685.49,345.08 L685.8,344.84 L686.1,344.6 L686.4,344.35 L686.7,344.09 L687,343.83 L687.3,343.56 L687.59,343.28 L687.89,342.99 L688.18,342.7 L688.48,342.4 L688.77,342.1 L689.06,341.8 L689.33,341.51 L689.59,341.23 L689.84,340.95 L690.07,340.67 L690.3,340.4 L690.51,340.13 L690.71,339.85 L690.91,339.57 L691.09,339.29 L691.27,339.01 L691.44,338.72 L691.61,338.43 L691.76,338.14 L691.91,337.84 L692.05,337.53 L692.19,337.22 L692.33,336.91 L692.46,336.59 L692.58,336.27 L692.7,335.94 L692.81,335.62 L692.92,335.3 L693.02,334.99 L693.12,334.68 L693.2,334.38 L693.28,334.08 L693.35,333.77 L693.41,333.45 L693.47,333.12 L693.52,332.79 L693.57,332.44 L693.62,332.08 L693.67,331.73 L693.72,331.38 L693.76,331.04 L693.79,330.71 L693.82,330.38 L693.84,330.03 L693.86,329.68 L693.87,329.32 L693.89,328.95 L693.91,328.58 L709.49,328.62 L709.5,328.99 L709.51,329.36 L709.52,329.74 L709.53,330.12 L709.54,330.52 L709.53,330.92 L709.53,331.33 L709.51,331.73 L709.49,332.12 L709.47,332.51 L709.44,332.89 L709.42,333.27 L709.39,333.67 L709.35,334.08 L709.3,334.5 L709.24,334.93 L709.16,335.36 L709.08,335.79 L708.97,336.22 L708.86,336.64 L708.74,337.05 L708.61,337.45 L708.47,337.85 L708.33,338.26 L708.18,338.66 L708.02,339.07 L707.85,339.48 L707.66,339.89 L707.47,340.31 L707.26,340.73 L707.03,341.15 L706.79,341.57 L706.54,341.99 L706.28,342.4 L706,342.82 L705.7,343.24 L705.39,343.65 L705.07,344.06 L704.74,344.46 L704.41,344.85 L704.06,345.24 L703.72,345.61 L703.38,345.97 L703.04,346.33 L702.69,346.69 L702.33,347.05 L701.96,347.41 L701.58,347.78 L701.18,348.15 L700.77,348.52 L700.34,348.9 L699.89,349.27 L699.43,349.65 L698.94,350.02 L698.44,350.39 L697.93,350.76 L697.42,351.11 L696.9,351.45 L696.38,351.79 L695.85,352.11 L695.32,352.44 L694.78,352.75 L694.24,353.07 L693.69,353.38 L693.14,353.68 L692.57,353.98 L692.01,354.28 L691.43,354.57 L690.85,354.86 L690.26,355.15 L689.66,355.43 L689.06,355.71 L688.44,355.99 L687.82,356.26 L687.19,356.53 L686.55,356.8 L685.91,357.06 L685.25,357.32 L684.59,357.57 L683.92,357.82 L683.26,358.07 L682.58,358.31 L681.91,358.54 L681.23,358.77 L680.55,359 L679.87,359.22 L679.18,359.44 L678.48,359.65 L677.79,359.86 L677.08,360.06 L676.36,360.26 L675.64,360.46 L674.91,360.65 L674.17,360.84 L673.42,361.02 L672.66,361.2 L671.9,361.37 L671.14,361.53 L670.38,361.69 L669.62,361.84 L668.86,361.98 L668.09,362.11 L667.32,362.24 L666.54,362.37 L665.75,362.49 L664.95,362.6 L664.15,362.71 L663.33,362.82 L662.51,362.91 L661.68,363 L660.85,363.09 L660.01,363.16 L659.16,363.23 L658.33,363.29 L657.5,363.34 L656.67,363.38 L655.85,363.42 L655.03,363.45 L654.21,363.48 L653.39,363.5 L652.57,363.51 L651.75,363.52 L650.92,363.52 L650.1,363.52 L649.27,363.51 L648.44,363.49 L647.61,363.47 L646.78,363.44 L645.93,363.4 L645.09,363.35 L644.24,363.3 L643.4,363.23 L642.57,363.17 L641.75,363.09 L640.93,363.01 L640.13,362.92 L639.34,362.83 L638.55,362.74 L637.77,362.64 L637,362.53 L636.23,362.42 L635.47,362.31 L634.72,362.2 L633.97,362.08 L633.24,361.96 L632.51,361.84 L631.78,361.71 L631.05,361.58 L630.31,361.45 L629.56,361.31 L628.8,361.17 L628.03,361.01 L627.26,360.85 L626.48,360.68 L625.69,360.49 L624.91,360.3 L624.12,360.1 L623.34,359.89 L622.56,359.67 L621.8,359.44 L621.05,359.21 L620.32,358.97 L619.61,358.73 L618.91,358.49 L618.23,358.24 L617.57,357.99 L616.91,357.74 L616.26,357.48 L615.62,357.22 L614.99,356.96 L614.36,356.69 L613.73,356.41 L613.11,356.13 L612.49,355.85 L611.88,355.55 L611.26,355.25 L610.63,354.93 L610,354.6 L609.37,354.25 L608.75,353.87 L608.17,353.49 L607.61,353.1 L607.08,352.71 L606.58,352.32 L606.11,351.94 L605.67,351.57 L605.25,351.21 L604.87,350.86 L604.5,350.52 L604.15,350.2 L603.79,349.87 L603.43,349.54 L603.05,349.19 L602.67,348.83 L602.29,348.46 L601.92,348.09 L601.57,347.73 L601.23,347.38 L600.9,347.03 L600.56,346.69 L600.2,346.36 L599.85,346.04 L599.51,345.72 L599.17,345.41 L598.83,345.1 L598.48,344.78 L598.13,344.46 L597.77,344.13 L597.41,343.8 L597.05,343.47 L596.7,343.14 L596.35,342.82 L596.01,342.5 L595.67,342.19 L595.33,341.88 L594.99,341.57 L594.66,341.27 L594.33,340.98 L594,340.69 L593.68,340.4 L593.36,340.11 L593.03,339.82 L592.69,339.53 L592.35,339.24 L592.01,338.95 L591.66,338.66 L591.31,338.37 L590.96,338.08 L590.61,337.79 L590.25,337.51 L589.89,337.23 L589.53,336.95 L589.17,336.67 L588.8,336.4 L588.44,336.13 L588.07,335.86 L587.7,335.6 L587.32,335.34 L586.93,335.08 L586.55,334.81 L586.18,334.54 L585.79,334.27 L585.4,334 L585,333.73 L584.6,333.45 L584.2,333.18 L583.79,332.92 L583.39,332.65 L582.99,332.4 L582.61,332.15 L582.25,331.91 L581.9,331.68 L581.55,331.46 L581.2,331.25 L580.84,331.05 L580.47,330.84 L580.1,330.65 L579.71,330.45 L579.32,330.26 L578.92,330.07 L578.51,329.88 L578.09,329.69 L577.65,329.51 L577.21,329.33 L576.75,329.15 L576.29,328.98 L575.82,328.8 L575.34,328.63 L574.84,328.47 L574.32,328.31 L573.79,328.16 L573.24,328.01 L572.69,327.86 L572.13,327.71 L571.57,327.57 L571,327.43 L570.44,327.29 L569.88,327.16 L569.33,327.04 L568.78,326.92 L568.24,326.81 L567.71,326.71 L567.19,326.62 L566.66,326.53 L566.12,326.45 L565.58,326.37 L565.03,326.3 L564.47,326.23 L563.91,326.17 L563.34,326.12 L562.76,326.07 L562.18,326.03 L561.59,326 L561.02,325.97 L560.44,325.94 L559.87,325.93 L559.29,325.91 L558.72,325.9 L558.14,325.9 L557.56,325.91 L556.97,325.93 L556.38,325.95 L555.78,325.97 L555.18,326 L554.59,326.04 L553.99,326.08 L553.4,326.12 L552.81,326.16 L552.23,326.21 L551.65,326.27 L551.07,326.34 L550.49,326.41 L549.92,326.48 L549.34,326.56 L548.79,326.64 L548.25,326.72 L547.72,326.81 L547.22,326.9 L546.74,326.99 L546.28,327.09 L545.82,327.18 L545.37,327.28 L544.92,327.39 L544.48,327.51 L544.03,327.63 L543.59,327.76 L543.15,327.89 L542.72,328.04 L542.3,328.18 L541.9,328.32 L541.52,328.47 L541.14,328.62 L540.76,328.79 L540.37,328.96 L539.97,329.15 L539.56,329.35 L539.14,329.56 L538.71,329.78 L538.3,329.99 L537.9,330.21 L537.51,330.42 L537.14,330.63 L536.79,330.83 L536.45,331.04 L536.14,331.24 L535.83,331.45 L535.54,331.67 L535.24,331.89 L534.95,332.11 L534.67,332.35 L534.38,332.59 L534.11,332.84 L533.83,333.09 L533.56,333.35 L533.3,333.61 L533.04,333.88 L532.79,334.15 L532.54,334.42 L532.3,334.7 L532.06,334.97 L531.83,335.25 L531.61,335.52 L531.39,335.8 L531.19,336.08 L530.99,336.36 L530.79,336.65 L530.6,336.94 L530.41,337.24 L530.23,337.53 L530.07,337.82 L529.91,338.11 L529.77,338.39 L529.63,338.68 L529.5,338.96 L529.39,339.24 L529.28,339.52 L529.19,339.8 L529.1,340.09 L529.01,340.39 L528.91,340.7 L528.81,341.01 L528.71,341.33 L528.61,341.66 L528.52,341.99 L528.44,342.33 L528.35,342.67 L528.27,343.01 L528.19,343.34 L528.13,343.66 L528.07,343.98 L528.01,344.31 L527.96,344.65 L527.91,345 L527.86,345.35 L527.81,345.7 L527.77,346.06 L527.73,346.43 L527.68,346.8 L527.63,347.18 Z" style="fill:#fff"/>
<path class="k" d="M510.17,346.82 L510.18,346.46 L510.18,346.09 L510.19,345.72 L510.2,345.35 L510.2,344.96 L510.22,344.57 L510.23,344.18 L510.25,343.78 L510.28,343.38 L510.31,342.96 L510.36,342.55 L510.41,342.14 L510.46,341.74 L510.52,341.35 L510.58,340.95 L510.65,340.55 L510.72,340.14 L510.8,339.73 L510.9,339.31 L511,338.89 L511.14,338.46 L511.3,338.02 L511.48,337.58 L511.67,337.14 L511.88,336.7 L512.09,336.26 L512.32,335.84 L512.57,335.41 L512.82,334.99 L513.08,334.58 L513.35,334.17 L513.63,333.77 L513.92,333.37 L514.21,332.96 L514.52,332.56 L514.85,332.15 L515.19,331.75 L515.53,331.35 L515.89,330.96 L516.26,330.57 L516.65,330.18 L517.05,329.8 L517.45,329.42 L517.87,329.04 L518.31,328.66 L518.76,328.28 L519.22,327.91 L519.7,327.53 L520.2,327.16 L520.71,326.78 L521.24,326.41 L521.8,326.05 L522.37,325.68 L522.97,325.32 L523.58,324.97 L524.19,324.63 L524.81,324.31 L525.43,323.99 L526.05,323.69 L526.67,323.4 L527.29,323.12 L527.92,322.84 L528.56,322.56 L529.22,322.29 L529.91,322.01 L530.62,321.73 L531.37,321.46 L532.15,321.19 L532.94,320.93 L533.73,320.68 L534.53,320.45 L535.32,320.24 L536.13,320.03 L536.94,319.83 L537.77,319.64 L538.61,319.47 L539.46,319.3 L540.33,319.14 L541.2,318.99 L542.08,318.86 L542.94,318.75 L543.8,318.66 L544.64,318.57 L545.47,318.49 L546.29,318.43 L547.1,318.37 L547.9,318.31 L548.71,318.26 L549.52,318.22 L550.34,318.18 L551.15,318.15 L551.96,318.12 L552.76,318.1 L553.56,318.08 L554.37,318.07 L555.17,318.07 L555.98,318.07 L556.79,318.07 L557.61,318.09 L558.43,318.1 L559.25,318.12 L560.08,318.15 L560.91,318.18 L561.73,318.22 L562.56,318.26 L563.37,318.32 L564.18,318.38 L564.99,318.45 L565.79,318.52 L566.6,318.6 L567.42,318.68 L568.24,318.76 L569.05,318.86 L569.87,318.96 L570.69,319.07 L571.51,319.2 L572.32,319.33 L573.11,319.46 L573.89,319.61 L574.66,319.75 L575.41,319.9 L576.16,320.05 L576.89,320.2 L577.61,320.35 L578.33,320.51 L579.04,320.67 L579.76,320.84 L580.48,321.01 L581.2,321.19 L581.93,321.37 L582.67,321.55 L583.41,321.74 L584.16,321.94 L584.9,322.14 L585.64,322.35 L586.38,322.58 L587.1,322.8 L587.83,323.04 L588.55,323.29 L589.27,323.55 L589.97,323.82 L590.67,324.09 L591.35,324.38 L592.02,324.67 L592.69,324.98 L593.34,325.28 L593.97,325.6 L594.57,325.91 L595.15,326.21 L595.71,326.52 L596.23,326.82 L596.74,327.12 L597.24,327.41 L597.73,327.71 L598.23,328.01 L598.72,328.31 L599.21,328.61 L599.7,328.92 L600.19,329.23 L600.66,329.55 L601.13,329.87 L601.59,330.2 L602.05,330.54 L602.5,330.87 L602.94,331.21 L603.37,331.54 L603.8,331.87 L604.22,332.21 L604.63,332.54 L605.04,332.88 L605.45,333.21 L605.85,333.55 L606.24,333.89 L606.63,334.23 L607.02,334.57 L607.4,334.91 L607.78,335.25 L608.17,335.6 L608.55,335.95 L608.91,336.31 L609.26,336.66 L609.6,337.02 L609.93,337.37 L610.25,337.72 L610.57,338.06 L610.88,338.4 L611.19,338.73 L611.49,339.07 L611.79,339.4 L612.09,339.72 L612.38,340.04 L612.68,340.36 L612.99,340.69 L613.31,341.03 L613.63,341.37 L613.94,341.71 L614.25,342.05 L614.56,342.38 L614.86,342.71 L615.17,343.02 L615.5,343.32 L615.83,343.61 L616.16,343.9 L616.48,344.18 L616.81,344.45 L617.14,344.72 L617.5,345 L617.88,345.29 L618.26,345.6 L618.65,345.9 L619.02,346.19 L619.38,346.47 L619.72,346.73 L620.05,346.97 L620.38,347.2 L620.7,347.42 L621.02,347.62 L621.33,347.8 L621.65,347.98 L621.97,348.16 L622.3,348.35 L622.66,348.53 L623.04,348.73 L623.45,348.93 L623.88,349.13 L624.31,349.33 L624.76,349.54 L625.21,349.73 L625.67,349.93 L626.14,350.12 L626.61,350.32 L627.09,350.5 L627.56,350.69 L628.04,350.87 L628.51,351.04 L628.99,351.2 L629.46,351.36 L629.92,351.51 L630.37,351.66 L630.83,351.79 L631.29,351.92 L631.76,352.05 L632.24,352.17 L632.72,352.29 L633.22,352.41 L633.74,352.52 L634.27,352.63 L634.81,352.74 L635.37,352.85 L635.94,352.95 L636.53,353.06 L637.13,353.17 L637.74,353.27 L638.35,353.37 L638.95,353.47 L639.55,353.56 L640.15,353.65 L640.74,353.74 L641.33,353.83 L641.92,353.9 L642.5,353.98 L643.08,354.05 L643.66,354.12 L644.23,354.18 L644.8,354.23 L645.36,354.29 L645.91,354.33 L646.46,354.37 L647.01,354.41 L647.56,354.44 L648.12,354.46 L648.68,354.48 L649.25,354.5 L649.82,354.51 L650.4,354.52 L650.98,354.52 L651.56,354.52 L652.14,354.52 L652.72,354.51 L653.31,354.49 L653.89,354.47 L654.47,354.45 L655.04,354.42 L655.61,354.39 L656.18,354.36 L656.73,354.32 L657.28,354.28 L657.82,354.23 L658.36,354.17 L658.91,354.11 L659.46,354.05 L660.01,353.98 L660.56,353.9 L661.12,353.82 L661.67,353.74 L662.24,353.65 L662.8,353.55 L663.37,353.45 L663.93,353.35 L664.5,353.25 L665.05,353.15 L665.6,353.05 L666.13,352.94 L666.67,352.83 L667.2,352.71 L667.74,352.59 L668.27,352.46 L668.81,352.33 L669.35,352.2 L669.88,352.06 L670.42,351.91 L670.95,351.77 L671.48,351.62 L672.01,351.46 L672.53,351.3 L673.04,351.14 L673.55,350.98 L674.05,350.82 L674.54,350.65 L675.02,350.48 L675.5,350.3 L675.97,350.11 L676.44,349.93 L676.91,349.74 L677.37,349.54 L677.83,349.34 L678.28,349.14 L678.74,348.93 L679.18,348.73 L679.63,348.51 L680.07,348.3 L680.5,348.08 L680.93,347.85 L681.36,347.63 L681.78,347.4 L682.19,347.17 L682.6,346.94 L683,346.71 L683.39,346.47 L683.77,346.24 L684.14,346 L684.5,345.77 L684.85,345.54 L685.17,345.31 L685.49,345.08 L685.8,344.84 L686.1,344.6 L686.4,344.35 L686.7,344.09 L687,343.83 L687.3,343.56 L687.59,343.28 L687.89,342.99 L688.18,342.7 L688.48,342.4 L688.77,342.1 L689.06,341.8 L689.33,341.51 L689.59,341.23 L689.84,340.95 L690.07,340.67 L690.3,340.4 L690.51,340.13 L690.71,339.85 L690.91,339.57 L691.09,339.29 L691.27,339.01 L691.44,338.72 L691.61,338.43 L691.76,338.14 L691.91,337.84 L692.05,337.53 L692.19,337.22 L692.33,336.91 L692.46,336.59 L692.58,336.27 L692.7,335.94 L692.81,335.62 L692.92,335.3 L693.02,334.99 L693.12,334.68 L693.2,334.38 L693.28,334.08 L693.35,333.77 L693.41,333.45 L693.47,333.12 L693.52,332.79 L693.57,332.44 L693.62,332.08 L693.67,331.73 L693.72,331.38 L693.76,331.04 L693.79,330.71 L693.82,330.38 L693.84,330.03 L693.86,329.68 L693.87,329.32 L693.89,328.95 L693.91,328.58"/>
<path class="k" d="M527.63,347.18 L527.68,346.8 L527.73,346.43 L527.77,346.06 L527.81,345.7 L527.86,345.35 L527.91,345 L527.96,344.65 L528.01,344.31 L528.07,343.98 L528.13,343.66 L528.19,343.34 L528.27,343.01 L528.35,342.67 L528.44,342.33 L528.52,341.99 L528.61,341.66 L528.71,341.33 L528.81,341.01 L528.91,340.7 L529.01,340.39 L529.1,340.09 L529.19,339.8 L529.28,339.52 L529.39,339.24 L529.5,338.96 L529.63,338.68 L529.77,338.39 L529.91,338.11 L530.07,337.82 L530.23,337.53 L530.41,337.24 L530.6,336.94 L530.79,336.65 L530.99,336.36 L531.19,336.08 L531.39,335.8 L531.61,335.52 L531.83,335.25 L532.06,334.97 L532.3,334.7 L532.54,334.42 L532.79,334.15 L533.04,333.88 L533.3,333.61 L533.56,333.35 L533.83,333.09 L534.11,332.84 L534.38,332.59 L534.67,332.35 L534.95,332.11 L535.24,331.89 L535.54,331.67 L535.83,331.45 L536.14,331.24 L536.45,331.04 L536.79,330.83 L537.14,330.63 L537.51,330.42 L537.9,330.21 L538.3,329.99 L538.71,329.78 L539.14,329.56 L539.56,329.35 L539.97,329.15 L540.37,328.96 L540.76,328.79 L541.14,328.62 L541.52,328.47 L541.9,328.32 L542.3,328.18 L542.72,328.04 L543.15,327.89 L543.59,327.76 L544.03,327.63 L544.48,327.51 L544.92,327.39 L545.37,327.28 L545.82,327.18 L546.28,327.09 L546.74,326.99 L547.22,326.9 L547.72,326.81 L548.25,326.72 L548.79,326.64 L549.34,326.56 L549.92,326.48 L550.49,326.41 L551.07,326.34 L551.65,326.27 L552.23,326.21 L552.81,326.16 L553.4,326.12 L553.99,326.08 L554.59,326.04 L555.18,326 L555.78,325.97 L556.38,325.95 L556.97,325.93 L557.56,325.91 L558.14,325.9 L558.72,325.9 L559.29,325.91 L559.87,325.93 L560.44,325.94 L561.02,325.97 L561.59,326 L562.18,326.03 L562.76,326.07 L563.34,326.12 L563.91,326.17 L564.47,326.23 L565.03,326.3 L565.58,326.37 L566.12,326.45 L566.66,326.53 L567.19,326.62 L567.71,326.71 L568.24,326.81 L568.78,326.92 L569.33,327.04 L569.88,327.16 L570.44,327.29 L571,327.43 L571.57,327.57 L572.13,327.71 L572.69,327.86 L573.24,328.01 L573.79,328.16 L574.32,328.31 L574.84,328.47 L575.34,328.63 L575.82,328.8 L576.29,328.98 L576.75,329.15 L577.21,329.33 L577.65,329.51 L578.09,329.69 L578.51,329.88 L578.92,330.07 L579.32,330.26 L579.71,330.45 L580.1,330.65 L580.47,330.84 L580.84,331.05 L581.2,331.25 L581.55,331.46 L581.9,331.68 L582.25,331.91 L582.61,332.15 L582.99,332.4 L583.39,332.65 L583.79,332.92 L584.2,333.18 L584.6,333.45 L585,333.73 L585.4,334 L585.79,334.27 L586.18,334.54 L586.55,334.81 L586.93,335.08 L587.32,335.34 L587.7,335.6 L588.07,335.86 L588.44,336.13 L588.8,336.4 L589.17,336.67 L589.53,336.95 L589.89,337.23 L590.25,337.51 L590.61,337.79 L590.96,338.08 L591.31,338.37 L591.66,338.66 L592.01,338.95 L592.35,339.24 L592.69,339.53 L593.03,339.82 L593.36,340.11 L593.68,340.4 L594,340.69 L594.33,340.98 L594.66,341.27 L594.99,341.57 L595.33,341.88 L595.67,342.19 L596.01,342.5 L596.35,342.82 L596.7,343.14 L597.05,343.47 L597.41,343.8 L597.77,344.13 L598.13,344.46 L598.48,344.78 L598.83,345.1 L599.17,345.41 L599.51,345.72 L599.85,346.04 L600.2,346.36 L600.56,346.69 L600.9,347.03 L601.23,347.38 L601.57,347.73 L601.92,348.09 L602.29,348.46 L602.67,348.83 L603.05,349.19 L603.43,349.54 L603.79,349.87 L604.15,350.2 L604.5,350.52 L604.87,350.86 L605.25,351.21 L605.67,351.57 L606.11,351.94 L606.58,352.32 L607.08,352.71 L607.61,353.1 L608.17,353.49 L608.75,353.87 L609.37,354.25 L610,354.6 L610.63,354.93 L611.26,355.25 L611.88,355.55 L612.49,355.85 L613.11,356.13 L613.73,356.41 L614.36,356.69 L614.99,356.96 L615.62,357.22 L616.26,357.48 L616.91,357.74 L617.57,357.99 L618.23,358.24 L618.91,358.49 L619.61,358.73 L620.32,358.97 L621.05,359.21 L621.8,359.44 L622.56,359.67 L623.34,359.89 L624.12,360.1 L624.91,360.3 L625.69,360.49 L626.48,360.68 L627.26,360.85 L628.03,361.01 L628.8,361.17 L629.56,361.31 L630.31,361.45 L631.05,361.58 L631.78,361.71 L632.51,361.84 L633.24,361.96 L633.97,362.08 L634.72,362.2 L635.47,362.31 L636.23,362.42 L637,362.53 L637.77,362.64 L638.55,362.74 L639.34,362.83 L640.13,362.92 L640.93,363.01 L641.75,363.09 L642.57,363.17 L643.4,363.23 L644.24,363.3 L645.09,363.35 L645.93,363.4 L646.78,363.44 L647.61,363.47 L648.44,363.49 L649.27,363.51 L650.1,363.52 L650.92,363.52 L651.75,363.52 L652.57,363.51 L653.39,363.5 L654.21,363.48 L655.03,363.45 L655.85,363.42 L656.67,363.38 L657.5,363.34 L658.33,363.29 L659.16,363.23 L660.01,363.16 L660.85,363.09 L661.68,363 L662.51,362.91 L663.33,362.82 L664.15,362.71 L664.95,362.6 L665.75,362.49 L666.54,362.37 L667.32,362.24 L668.09,362.11 L668.86,361.98 L669.62,361.84 L670.38,361.69 L671.14,361.53 L671.9,361.37 L672.66,361.2 L673.42,361.02 L674.17,360.84 L674.91,360.65 L675.64,360.46 L676.36,360.26 L677.08,360.06 L677.79,359.86 L678.48,359.65 L679.18,359.44 L679.87,359.22 L680.55,359 L681.23,358.77 L681.91,358.54 L682.58,358.31 L683.26,358.07 L683.92,357.82 L684.59,357.57 L685.25,357.32 L685.91,357.06 L686.55,356.8 L687.19,356.53 L687.82,356.26 L688.44,355.99 L689.06,355.71 L689.66,355.43 L690.26,355.15 L690.85,354.86 L691.43,354.57 L692.01,354.28 L692.57,353.98 L693.14,353.68 L693.69,353.38 L694.24,353.07 L694.78,352.75 L695.32,352.44 L695.85,352.11 L696.38,351.79 L696.9,351.45 L697.42,351.11 L697.93,350.76 L698.44,350.39 L698.94,350.02 L699.43,349.65 L699.89,349.27 L700.34,348.9 L700.77,348.52 L701.18,348.15 L701.58,347.78 L701.96,347.41 L702.33,347.05 L702.69,346.69 L703.04,346.33 L703.38,345.97 L703.72,345.61 L704.06,345.24 L704.41,344.85 L704.74,344.46 L705.07,344.06 L705.39,343.65 L705.7,343.24 L706,342.82 L706.28,342.4 L706.54,341.99 L706.79,341.57 L707.03,341.15 L707.26,340.73 L707.47,340.31 L707.66,339.89 L707.85,339.48 L708.02,339.07 L708.18,338.66 L708.33,338.26 L708.47,337.85 L708.61,337.45 L708.74,337.05 L708.86,336.64 L708.97,336.22 L709.08,335.79 L709.16,335.36 L709.24,334.93 L709.3,334.5 L709.35,334.08 L709.39,333.67 L709.42,333.27 L709.44,332.89 L709.47,332.51 L709.49,332.12 L709.51,331.73 L709.53,331.33 L709.53,330.92 L709.54,330.52 L709.53,330.12 L709.52,329.74 L709.51,329.36 L709.5,328.99 L709.49,328.62"/>
<path class="k" d="M525.08,347.06 L526.28,346.14 L527.2,345.24 L527.83,344.37 L528.15,343.55" style="stroke-width:0.85;stroke:#222"/>
<path class="k" d="M517.2,346.88 L518.97,345.97 L520.77,345.07 L522.52,344.19 L524.2,343.36 L525.73,342.54 L527.06,341.73 L528.13,340.94 L528.89,340.19 L529.3,339.47" style="stroke-width:0.85;stroke:#222"/>
<path class="k" d="M510.84,346.7 L511.67,345.76 L512.8,344.79 L514.21,343.81 L515.86,342.85 L517.69,341.94 L519.64,341.07 L521.63,340.24 L523.59,339.48 L525.44,338.79 L527.15,338.15 L528.65,337.53 L529.91,336.88 L530.91,336.21 L531.62,335.51" style="stroke-width:0.85;stroke:#222"/>
<path class="k" d="M510.25,343.84 L510.52,342.68 L511.18,341.57 L512.19,340.49 L513.56,339.43 L515.29,338.39 L517.3,337.43 L519.5,336.59 L521.79,335.84 L524.1,335.18 L526.36,334.58 L528.5,334.04 L530.47,333.52 L532.23,333 L533.73,332.48 L534.96,331.95 L535.94,331.38" style="stroke-width:0.85;stroke:#222"/>
<path class="k" d="M511.08,338.64 L511.8,337.25 L512.99,335.94 L514.58,334.74 L516.5,333.69 L518.72,332.73 L521.16,331.9 L523.74,331.2 L526.39,330.61 L529.02,330.13 L531.55,329.76 L533.94,329.48 L536.2,329.23 L538.32,328.93 L540.18,328.61 L541.71,328.29 L543.12,327.9" style="stroke-width:0.85;stroke:#222"/>
<path class="k" d="M514,333.25 L515.38,331.75 L517.22,330.37 L519.48,329.15 L522.1,328.08 L525.03,327.18 L528.17,326.5 L531.34,326.06 L534.48,325.77 L537.53,325.62 L540.41,325.63 L543.1,325.73 L545.55,325.9 L547.85,326.05 L550.19,326.13 L552.47,326.11 L554.75,326.03" style="stroke-width:0.85;stroke:#222"/>
<path class="k" d="M518.77,328.27 L521.08,326.67 L523.99,325.25 L527.22,324.16 L530.61,323.37 L534.31,322.78 L538.11,322.5 L541.82,322.52 L545.34,322.79 L548.65,323.23 L551.79,323.73 L554.77,324.25 L557.6,324.76 L560.24,325.28 L562.79,325.78 L565.24,326.25 L567.58,326.69" style="stroke-width:0.85;stroke:#222"/>
<path class="k" d="M525.9,323.77 L529.03,322.47 L532.8,321.37 L536.91,320.64 L541.15,320.32 L545.31,320.4 L549.18,320.77 L552.87,321.32 L556.38,322 L559.68,322.79 L562.74,323.67 L565.58,324.61 L568.13,325.59 L570.56,326.6 L573.04,327.61 L575.41,328.57 L577.57,329.48" style="stroke-width:0.85;stroke:#222"/>
<path class="k" d="M534.9,320.35 L538.99,319.48 L543.34,319.04 L547.48,319.04 L551.46,319.32 L555.31,319.82 L559.02,320.52 L562.52,321.4 L565.75,322.43 L568.68,323.59 L571.3,324.86 L573.77,326.18 L576.06,327.49 L578.03,328.79 L579.76,330.04 L581.33,331.2 L582.98,332.39" style="stroke-width:0.85;stroke:#222"/>
<path class="k" d="M545.63,318.48 L549.54,318.3 L553.46,318.39 L557.3,318.74 L561.1,319.33 L564.68,320.16 L568.02,321.18 L571.06,322.41 L573.74,323.77 L576.17,325.2 L578.33,326.68 L580.14,328.19 L581.61,329.67 L582.82,331.11 L584.1,332.57 L585.67,334.04 L587.38,335.38" style="stroke-width:0.85;stroke:#222"/>
<path class="k" d="M555.91,318.07 L559.62,318.21 L563.3,318.61 L566.8,319.28 L570.16,320.18 L573.2,321.32 L575.85,322.6 L578.23,324 L580.36,325.5 L582.13,327.08 L583.5,328.69 L584.52,330.29 L585.43,331.9 L586.49,333.5 L587.64,334.99 L588.94,336.35 L590.45,337.67" style="stroke-width:0.85;stroke:#222"/>
<path class="k" d="M566.31,318.57 L569.69,319.02 L572.93,319.74 L575.81,320.69 L578.38,321.79 L580.74,323.05 L582.87,324.46 L584.63,326 L585.97,327.64 L586.89,329.31 L587.56,330.98 L588.22,332.64 L588.89,334.23 L589.63,335.7 L590.52,337.1 L591.6,338.44 L592.89,339.7" style="stroke-width:0.85;stroke:#222"/>
<path class="k" d="M576.42,320.1 L578.95,320.73 L581.34,321.56 L583.61,322.56 L585.61,323.76 L587.28,325.13 L588.54,326.63 L589.38,328.19 L589.87,329.77 L590.21,331.35 L590.49,332.9 L590.76,334.38 L591.07,335.79 L591.51,337.13 L592.12,338.39 L592.94,339.58 L593.97,340.66" style="stroke-width:0.85;stroke:#222"/>
<path class="k" d="M585.7,322.37 L588.07,323.22 L590.15,324.3 L591.85,325.57 L593.09,326.96 L593.84,328.39 L594.3,329.87 L594.57,331.39 L594.67,332.93 L594.67,334.44 L594.62,335.92 L594.61,337.36 L594.7,338.73 L594.91,340.01 L595.33,341.21 L596.05,342.37 L597.07,343.49" style="stroke-width:0.85;stroke:#222"/>
<path class="k" d="M594.46,325.85 L596.1,326.87 L597.32,327.98 L598.26,329.2 L598.9,330.53 L599.26,331.96 L599.36,333.42 L599.27,334.89 L599.06,336.36 L598.78,337.82 L598.49,339.23 L598.26,340.59 L598.2,341.91 L598.37,343.2 L598.82,344.44 L599.51,345.55 L600.48,346.61" style="stroke-width:0.85;stroke:#222"/>
<path class="k" d="M600.91,329.72 L602.17,330.78 L603.1,331.94 L603.69,333.19 L604,334.5 L604.05,335.86 L603.89,337.26 L603.54,338.69 L603.09,340.1 L602.64,341.49 L602.28,342.87 L602.07,344.21 L602,345.49 L602.15,346.74 L602.54,348.01 L603.28,349.24 L604.25,350.29" style="stroke-width:0.85;stroke:#222"/>
<path class="k" d="M606.34,333.98 L607.38,335.06 L608.12,336.25 L608.49,337.53 L608.55,338.83 L608.38,340.16 L608.07,341.51 L607.71,342.89 L607.3,344.29 L606.91,345.68 L606.63,347.1 L606.53,348.51 L606.57,349.85 L606.88,351.19 L607.66,352.56 L608.99,353.89 L610.79,355.02" style="stroke-width:0.85;stroke:#222"/>
<path class="k" d="M610.87,338.39 L611.72,339.51 L612.28,340.68 L612.64,341.96 L612.76,343.28 L612.74,344.6 L612.61,345.94 L612.48,347.36 L612.3,348.83 L612.23,350.33 L612.46,351.88 L613.14,353.43 L614.14,354.85 L615.4,356.16 L616.95,357.32 L618.81,358.34 L621.02,359.2" style="stroke-width:0.85;stroke:#222"/>
<path class="k" d="M614.77,342.61 L615.88,343.81 L616.76,345.01 L617.56,346.37 L618.06,347.73 L618.4,349.06 L618.88,350.47 L619.65,352 L620.64,353.57 L621.83,355.14 L623.31,356.68 L625.2,358.15 L627.45,359.46 L629.93,360.58 L632.48,361.47 L635.18,362.18 L638.09,362.68" style="stroke-width:0.85;stroke:#222"/>
<path class="k" d="M619.17,346.31 L620.47,347.4 L621.48,348.39 L622.58,349.54 L623.87,350.86 L625.23,352.26 L626.66,353.72 L628.28,355.18 L630.23,356.62 L632.48,358.01 L634.9,359.32 L637.52,360.53 L640.39,361.6 L643.56,362.48 L646.99,363.1 L650.49,363.43 L654,363.49" style="stroke-width:0.85;stroke:#222"/>
<path class="k" d="M623.52,348.96 L625.48,349.96 L627.41,351.05 L629.24,352.18 L631.06,353.34 L633.16,354.55 L635.57,355.82 L638.13,357.12 L640.84,358.4 L643.78,359.6 L647.03,360.66 L650.51,361.52 L654.16,362.16 L657.96,362.55 L661.91,362.63 L665.78,362.39 L669.44,361.87" style="stroke-width:0.85;stroke:#222"/>
<path class="k" d="M629.4,351.34 L631.53,352.09 L633.76,352.89 L636.25,353.81 L638.9,354.84 L641.56,355.92 L644.31,357.01 L647.25,358.06 L650.48,359.02 L653.94,359.86 L657.61,360.53 L661.51,360.98 L665.48,361.16 L669.4,361.07 L673.28,360.68 L676.98,359.99 L680.39,359.05" style="stroke-width:0.85;stroke:#222"/>
<path class="k" d="M635.71,352.91 L638.61,353.5 L641.41,354.19 L644.14,354.94 L646.86,355.72 L649.79,356.51 L652.95,357.28 L656.33,358 L659.92,358.6 L663.72,359.02 L667.63,359.26 L671.62,359.27 L675.59,359.01 L679.42,358.5 L683.1,357.72 L686.58,356.68 L689.73,355.4" style="stroke-width:0.85;stroke:#222"/>
<path class="k" d="M643.27,354.07 L645.97,354.42 L648.61,354.83 L651.44,355.28 L654.42,355.78 L657.52,356.28 L660.8,356.74 L664.31,357.1 L668,357.36 L671.81,357.46 L675.67,357.36 L679.5,357.05 L683.27,356.5 L686.91,355.71 L690.29,354.69 L693.35,353.45 L696.06,351.98" style="stroke-width:0.85;stroke:#222"/>
<path class="k" d="M650.43,354.52 L653.1,354.58 L655.81,354.73 L658.52,354.93 L661.42,355.15 L664.56,355.35 L667.87,355.55 L671.31,355.66 L674.88,355.66 L678.51,355.51 L682.16,355.18 L685.76,354.66 L689.22,353.93 L692.47,352.99 L695.47,351.84 L698.2,350.43 L700.49,348.76" style="stroke-width:0.85;stroke:#222"/>
<path class="k" d="M657.7,354.24 L660.08,354.06 L662.62,353.94 L665.35,353.9 L668.17,353.91 L671.18,353.91 L674.35,353.88 L677.62,353.78 L680.97,353.57 L684.36,353.23 L687.72,352.73 L691,352.07 L694.13,351.23 L697.07,350.15 L699.71,348.81 L701.84,347.35 L703.5,345.85" style="stroke-width:0.85;stroke:#222"/>
<path class="k" d="M664.77,353.2 L666.94,352.86 L669.25,352.59 L671.74,352.38 L674.38,352.21 L677.13,352.06 L680.01,351.86 L683.01,351.61 L686.08,351.27 L689.17,350.82 L692.22,350.24 L695.18,349.48 L697.97,348.5 L700.42,347.38 L702.49,346.17 L704.24,344.85 L705.65,343.31" style="stroke-width:0.85;stroke:#222"/>
<path class="k" d="M671.59,351.58 L673.5,351.1 L675.5,350.7 L677.66,350.36 L679.99,350.05 L682.49,349.74 L685.13,349.42 L687.87,349.07 L690.66,348.64 L693.46,348.09 L696.17,347.38 L698.71,346.54 L701.03,345.62 L703.12,344.59 L704.94,343.37 L706.37,342 L707.34,340.55" style="stroke-width:0.85;stroke:#222"/>
<path class="k" d="M677.8,349.36 L679.29,348.79 L680.97,348.3 L682.84,347.87 L684.88,347.5 L687.08,347.15 L689.39,346.79 L691.79,346.37 L694.24,345.85 L696.69,345.25 L699.05,344.58 L701.31,343.81 L703.39,342.9 L705.18,341.86 L706.62,340.72 L707.67,339.51 L708.32,338.28" style="stroke-width:0.85;stroke:#222"/>
<path class="k" d="M683.26,346.55 L684.43,345.95 L685.76,345.44 L687.28,344.98 L689.03,344.5 L690.99,344 L693.11,343.47 L695.33,342.93 L697.58,342.35 L699.8,341.69 L701.92,340.92 L703.86,340.05 L705.57,339.11 L707,338.11 L708.11,337.07 L708.88,335.95 L709.26,334.75" style="stroke-width:0.85;stroke:#222"/>
<path class="k" d="M687.41,343.45 L688.32,342.74 L689.5,342.07 L690.89,341.47 L692.46,340.93 L694.2,340.38 L696.07,339.79 L698.02,339.14 L699.98,338.42 L701.92,337.65 L703.75,336.82 L705.43,335.93 L706.87,334.95 L708.01,333.93 L708.84,332.92 L709.35,331.94 L709.53,330.89" style="stroke-width:0.85;stroke:#222"/>
<path class="k" d="M690.73,339.82 L691.36,339.13 L692.23,338.46 L693.35,337.78 L694.68,337.07 L696.21,336.34 L697.88,335.59 L699.62,334.81 L701.35,333.97 L703.02,333.08 L704.59,332.17 L706.02,331.24 L707.23,330.26 L708.19,329.3" style="stroke-width:0.85;stroke:#222"/>
<path class="k" d="M692.68,336 L693.11,335.19 L693.8,334.45 L694.72,333.68 L695.85,332.86 L697.16,331.98 L698.63,331.11 L700.15,330.21 L701.69,329.29" style="stroke-width:0.85;stroke:#222"/>
<path class="k" d="M693.65,331.88 L693.91,331.01 L694.43,330.16 L695.19,329.26" style="stroke-width:0.85;stroke:#222"/>
<rect class="kw" x="507.8" y="346.5" width="22.9" height="8.1"/>
<path class="kw" d="M502.4,354.6 H533.1 V378 Q533,390 509,392.6 H502.4 Z"/>
<line class="k" x1="508.8" y1="354.6" x2="508.8" y2="392.6"/>
<rect class="kw" x="533.1" y="364.2" width="3.8" height="6.8" style="stroke-width:0.8"/>
<path class="kw" d="M536.9,363.3 H544 Q549.6,363.6 549.6,367.5 Q549.6,371.4 544,371.7 H536.9 Z" style="stroke-width:0.9"/>
<line class="d" x1="403.3" y1="345.5" x2="417.4" y2="348"/>
<line class="d" x1="433.6" y1="350.7" x2="444.7" y2="352.7"/>
<line class="d" x1="461" y1="355.6" x2="472" y2="357.6"/>
<line class="d" x1="489" y1="360.7" x2="502.4" y2="363.1"/>
<line class="d" x1="403.3" y1="358" x2="416.4" y2="358.8"/>
<line class="d" x1="433.6" y1="359.7" x2="445.7" y2="360.3"/>
<line class="d" x1="462" y1="361.2" x2="475" y2="361.9"/>
<line class="d" x1="90.5" y1="240.6" x2="104.8" y2="240.6"/>
<line class="d" x1="122" y1="240.6" x2="135.3" y2="240.6"/>
<line class="d" x1="151.66" y1="240.6" x2="164.96" y2="240.6"/>
<line class="d" x1="181.32" y1="240.6" x2="194.62" y2="240.6"/>
<line class="d" x1="210.98" y1="240.6" x2="224.28" y2="240.6"/>
<line class="d" x1="240.64" y1="240.6" x2="253.94" y2="240.6"/>
<line class="d" x1="270.3" y1="240.6" x2="283.6" y2="240.6"/>
<line class="d" x1="299.96" y1="240.6" x2="313.26" y2="240.6"/>
<line class="d" x1="329.62" y1="240.6" x2="342.92" y2="240.6"/>
<line class="d" x1="359.28" y1="240.6" x2="372.58" y2="240.6"/>
<line class="d" x1="388.94" y1="240.6" x2="402.24" y2="240.6"/>
<line class="d" x1="389" y1="240.6" x2="403" y2="240.6"/>
<line class="d" x1="90.5" y1="407.8" x2="104.8" y2="407.8"/>
<line class="d" x1="122" y1="407.8" x2="135.3" y2="407.8"/>
<line class="d" x1="151.66" y1="407.8" x2="164.96" y2="407.8"/>
<line class="d" x1="181.32" y1="407.8" x2="194.62" y2="407.8"/>
<line class="d" x1="210.98" y1="407.8" x2="224.28" y2="407.8"/>
<line class="d" x1="240.64" y1="407.8" x2="253.94" y2="407.8"/>
<line class="d" x1="270.3" y1="407.8" x2="283.6" y2="407.8"/>
<line class="d" x1="299.96" y1="407.8" x2="313.26" y2="407.8"/>
<line class="d" x1="329.62" y1="407.8" x2="342.92" y2="407.8"/>
<line class="d" x1="359.28" y1="407.8" x2="372.58" y2="407.8"/>
<line class="d" x1="388.94" y1="407.8" x2="402.24" y2="407.8"/>
<line class="d" x1="389" y1="407.8" x2="403" y2="407.8"/>
<line class="d" x1="90.5" y1="240.6" x2="90.5" y2="248.6"/>
<line class="d" x1="90.5" y1="256" x2="90.5" y2="263.6"/>
<line class="d" x1="90.5" y1="271" x2="90.5" y2="278.6"/>
<line class="d" x1="90.5" y1="286" x2="90.5" y2="293.6"/>
<line class="d" x1="90.5" y1="301" x2="90.5" y2="308.6"/>
<line class="d" x1="90.5" y1="316" x2="90.5" y2="323.6"/>
<line class="d" x1="90.5" y1="331" x2="90.5" y2="338.6"/>
<line class="d" x1="90.5" y1="346" x2="90.5" y2="353.6"/>
<line class="d" x1="90.5" y1="361" x2="90.5" y2="368.6"/>
<line class="d" x1="90.5" y1="376" x2="90.5" y2="383.6"/>
<line class="d" x1="90.5" y1="391" x2="90.5" y2="398.6"/>
<line class="d" x1="90.5" y1="399.6" x2="90.5" y2="407.8"/>
<line class="d" x1="403" y1="240.6" x2="403" y2="248.6"/>
<line class="d" x1="403" y1="256" x2="403" y2="262.9"/>
<line class="d" x1="403" y1="270.27" x2="403" y2="277.17"/>
<line class="d" x1="403" y1="284.54" x2="403" y2="291.44"/>
<line class="d" x1="403" y1="298.81" x2="403" y2="305.71"/>
<line class="d" x1="403" y1="313.08" x2="403" y2="319.98"/>
<line class="d" x1="403" y1="327.35" x2="403" y2="334.25"/>
<line class="d" x1="403" y1="341.62" x2="403" y2="348.52"/>
<line class="d" x1="403" y1="355.89" x2="403" y2="362.79"/>
<line class="d" x1="403" y1="370.16" x2="403" y2="377.06"/>
<line class="d" x1="403" y1="384.43" x2="403" y2="391.33"/>
<line class="d" x1="403" y1="399.6" x2="403" y2="407.8"/>
<clipPath id="wallclip"><rect x="114" y="287.6" width="30" height="97.6"/></clipPath>
<g clip-path="url(#wallclip)">
<line class="k" x1="114" y1="274.9" x2="144" y2="288.7" style="stroke-width:1.1"/>
<line class="k" x1="114" y1="280.6" x2="144" y2="294.4" style="stroke-width:1.1"/>
<line class="k" x1="114" y1="286.3" x2="144" y2="300.1" style="stroke-width:1.1"/>
<line class="k" x1="114" y1="292" x2="144" y2="305.8" style="stroke-width:1.1"/>
<line class="k" x1="114" y1="297.7" x2="144" y2="311.5" style="stroke-width:1.1"/>
<line class="k" x1="114" y1="303.4" x2="144" y2="317.2" style="stroke-width:1.1"/>
<line class="k" x1="114" y1="309.1" x2="144" y2="322.9" style="stroke-width:1.1"/>
<line class="k" x1="114" y1="314.8" x2="144" y2="328.6" style="stroke-width:1.1"/>
<line class="k" x1="114" y1="320.5" x2="144" y2="334.3" style="stroke-width:1.1"/>
<line class="k" x1="114" y1="326.2" x2="144" y2="340" style="stroke-width:1.1"/>
<line class="k" x1="114" y1="331.9" x2="144" y2="345.7" style="stroke-width:1.1"/>
<line class="k" x1="114" y1="337.6" x2="144" y2="351.4" style="stroke-width:1.1"/>
<line class="k" x1="114" y1="343.3" x2="144" y2="357.1" style="stroke-width:1.1"/>
<line class="k" x1="114" y1="349" x2="144" y2="362.8" style="stroke-width:1.1"/>
<line class="k" x1="114" y1="354.7" x2="144" y2="368.5" style="stroke-width:1.1"/>
<line class="k" x1="114" y1="360.4" x2="144" y2="374.2" style="stroke-width:1.1"/>
<line class="k" x1="114" y1="366.1" x2="144" y2="379.9" style="stroke-width:1.1"/>
<line class="k" x1="114" y1="371.8" x2="144" y2="385.6" style="stroke-width:1.1"/>
<line class="k" x1="114" y1="377.5" x2="144" y2="391.3" style="stroke-width:1.1"/>
<line class="k" x1="114" y1="383.2" x2="144" y2="397" style="stroke-width:1.1"/>
<line class="k" x1="114" y1="388.9" x2="144" y2="402.7" style="stroke-width:1.1"/>
</g>
<line class="k" x1="144" y1="287.6" x2="144" y2="385.2" style="stroke-width:1.5"/>
<path class="t" d="M158.5,313 L148,316 L158.5,319 L155.8,316 Z" style="stroke-width:0.8"/>
<line class="t" x1="156" y1="315.3" x2="177.6" y2="315.3"/>
<line class="t" x1="156" y1="316.7" x2="177.6" y2="316.7"/>
<path class="kb" d="M147.6,328.5 L153.6,327.4 L160.5,327.2 L160.5,329.8 L153.6,329.6 Z" style="fill:#3a3a3a"/>
<rect class="kw" x="160.5" y="327" width="6" height="3" rx="1" style="stroke-width:0.7;fill:#ccc"/>
<path class="kb" d="M121,347.2 L127,346.1 L144.5,345.9 L144.5,348.5 L127,348.3 Z" style="fill:#3a3a3a"/>
<line class="d" x1="168" y1="328.6" x2="197" y2="328.6" style="stroke-dasharray:12 5;stroke-width:0.9"/>
<line class="d" x1="146" y1="347.2" x2="197" y2="347.2" style="stroke-dasharray:13 5;stroke-width:0.9"/>
<path class="t" d="M227.44,282.55 A49.5,23.4 0 1 1 241.56,287.86" style="stroke-dasharray:16 3 3 3;stroke-width:0.9"/>
<path class="t" d="M227.44,282.55 L168,328.6" style="stroke-dasharray:16 3 3 3;stroke-width:0.9"/>
<path class="t" d="M241.56,287.86 L169,329" style="stroke-dasharray:16 3 3 3;stroke-width:0.9"/>
<rect class="kw" x="229.1" y="266.6" width="4" height="4.3" style="stroke-width:0.8"/>
<rect class="kw" x="233.1" y="266.3" width="10.7" height="4.9" rx="2" style="stroke-width:0.85;stroke:#333"/>
<rect class="kw" x="243.8" y="266.3" width="10.6" height="4.9" rx="2" style="stroke-width:0.85;stroke:#333"/>
<rect class="kw" x="254.4" y="266.3" width="10.6" height="4.9" rx="2" style="stroke-width:0.85;stroke:#333"/>
<rect class="kw" x="265" y="266.3" width="9.6" height="4.9" rx="2" style="stroke-width:0.85;stroke:#333"/>
<path class="k" d="M274.6,266.3 H289.6 M274.6,271.2 H289.6" style="stroke-width:0.85;stroke:#333"/>
<ellipse class="kw" cx="289.8" cy="268.75" rx="2" ry="2.45" style="stroke-width:0.85"/>
<line class="k" x1="233.1" y1="268.75" x2="285.7" y2="268.75" style="stroke-width:1.1"/>
<path class="k" d="M273.5,267.6 L282.7,263.1 M273.5,269.9 L282.7,274.2" style="stroke-width:1.1"/>
<line class="g" x1="200.1" y1="298" x2="200.1" y2="321.5" style="stroke:#999"/>
<path class="kb" d="M200.1,326.3 L198,320.8 L202.2,320.8 Z"/>
<rect class="kb" x="196.6" y="326.3" width="2.5" height="24.4"/>
<line class="k" x1="199.1" y1="328.8" x2="223" y2="328.8" style="stroke-width:0.8"/>
<path class="kb" d="M221,328.8 L227,327.85 L238,327.85 L238,329.75 L227,329.75 Z" style="fill:#444"/>
<ellipse class="kb" cx="240" cy="328.8" rx="1.5" ry="1.6"/>
<line class="k" x1="199.1" y1="347.4" x2="223" y2="347.4" style="stroke-width:0.8"/>
<path class="kb" d="M221,347.4 L227,346.45 L238,346.45 L238,348.35 L227,348.35 Z" style="fill:#444"/>
<ellipse class="kb" cx="240" cy="347.4" rx="1.5" ry="1.6"/>
<rect class="kw" x="199.4" y="334.3" width="7.8" height="8.1" style="fill:#333;stroke-width:0.8"/>
<line class="t" x1="202" y1="335" x2="202" y2="341.8" style="stroke:#bbb"/>
<line class="t" x1="204.6" y1="335" x2="204.6" y2="341.8" style="stroke:#bbb"/>
<rect x="207" y="336.2" width="40" height="4.4" fill="#777" stroke="#222" stroke-width="0.7"/>
<path class="k" d="M207,338.4 H247" style="stroke:#bbb;stroke-width:2.4;stroke-dasharray:0.8 1.1;stroke-linecap:butt"/>
<path class="t" d="M228.6,309.7 L217.6,312.7 L228.6,315.7 L225.9,312.7 Z" style="stroke-width:0.8"/>
<line class="t" x1="226.1" y1="312" x2="247.9" y2="312"/>
<line class="t" x1="226.1" y1="313.4" x2="247.9" y2="313.4"/>
<path class="k" d="M233.8,306.2 A6.6,8.6 0 1 1 233.6,319" style="stroke-width:1.1"/>
<path class="k" d="M241.2,304.7 A7.2,9.2 0 0 1 241.6,320.5" style="stroke-width:1.1"/>
<path class="tw" d="M231,307.9 l5,-1.2 l-2.6,3.6 Z" style="stroke-width:0.8"/>
<path class="t" d="M347.6,335.3 L336.6,338.3 L347.6,341.3 L344.9,338.3 Z" style="stroke-width:0.8"/>
<line class="t" x1="345.1" y1="337.6" x2="367" y2="337.6"/>
<line class="t" x1="345.1" y1="339" x2="367" y2="339"/>
<path class="k" d="M352.2,331.8 A6.6,8.6 0 1 1 352,344.6" style="stroke-width:1.1"/>
<path class="k" d="M359.6,330.3 A7.2,9.2 0 0 1 360,346.1" style="stroke-width:1.1"/>
<path class="tw" d="M349.4,333.5 l5,-1.2 l-2.6,3.6 Z" style="stroke-width:0.8"/>
<path class="k" d="M264,313.2 C264,296 283,291.5 300,291.5 C318,291.5 336,298 346.5,309.5"/>
<path class="k" d="M282,313.2 C283,303 293,300 303,300 C314,300 324,304 330.5,312.5"/>
<path class="k" d="M321.5,312.8 C324,312.93 324.17,313.93 329,313.2 C333.83,312.47 331.67,312.13 336,310.6 C340.33,309.07 338,309.07 342,308.6 C346,308.13 344.17,309.07 348,309.2 C351.83,309.33 351.67,309.07 353.5,309" style="stroke-width:0.9"/>
<path class="k" d="M323,315.3 C325.33,315.4 325.33,316.37 330,315.6 C334.67,314.83 332.67,314.53 337,313 C341.33,311.47 339,311.47 343,311 C347,310.53 345.5,311.47 349,311.6 C352.5,311.73 352,311.47 353.5,311.4" style="stroke-width:0.9"/>
<rect class="kw" x="261.6" y="313.3" width="23.3" height="8.4"/>
<path class="kw" d="M258.1,321.7 H287.8 V343 Q287.5,356 264,359.3 H258.1 Z"/>
<line class="k" x1="263.3" y1="321.7" x2="263.3" y2="359.3"/>
<path class="k" d="M258,352.3 C254.77,354.4 256.03,353.87 248.3,358.6 C240.57,363.33 245.27,361.23 234.8,366.5 C224.33,371.77 226.83,370.37 216.9,374.4 C206.97,378.43 208.97,377.2 205,378.6" style="stroke-width:0.9"/>
<path class="k" d="M258,356 C255.17,357.87 256.83,357.07 249.5,361.6 C242.17,366.13 246.33,364.33 236,369.6 C225.67,374.87 228,373.6 218.5,377.4 C209,381.2 211.17,379.8 207.5,381" style="stroke-width:0.9"/>
<rect class="kw" x="308.4" y="335.6" width="4.4" height="7.8" style="stroke-width:0.9"/>
<line class="t" x1="310.4" y1="335.6" x2="310.4" y2="343.4"/>
<path class="kw" d="M312.8,335.6 H318.5 Q325.6,336 325.6,339.5 Q325.6,343 318.5,343.4 H312.8 Z" style="stroke-width:0.9"/>
<line class="g" x1="314.9" y1="352" x2="314.9" y2="364" style="stroke:#999"/>
<path class="kb" d="M314.9,346.6 L312.8,352.4 L317,352.4 Z"/>
<line class="g" x1="216.8" y1="388.9" x2="240.4" y2="388.9"/>
<path class="kb" d="M204.5,388.9 L216.8,387.2 L216.8,390.6 Z"/>
<path class="kw" d="M158.4,358.5 L162.5,356.3 L180,357.6 L190.8,371.1 L185.8,374.3 L167,372 Z" style="stroke-width:1.15"/>
<path class="k" d="M158.4,358.5 L165.2,358.8 L177.8,359.2 L180,357.6" style="stroke-width:0.9"/>
<path class="k" d="M165.2,358.8 L171,369.3 L167,372" style="stroke-width:0.9"/>
<path class="k" d="M177.8,359.2 L185,372.3" style="stroke-width:1"/>
<path class="k" d="M171,369.3 L185,372.3 L190.8,371.1" style="stroke-width:0.9"/>
<ellipse class="kb" cx="170.1" cy="363.5" rx="1" ry="0.75"/>
<ellipse class="kb" cx="175.5" cy="363.9" rx="1" ry="0.75"/>
<ellipse class="kb" cx="180.2" cy="361.4" rx="1" ry="0.75"/>
<ellipse class="kb" cx="168.5" cy="368.2" rx="1" ry="0.75"/>
<ellipse class="kb" cx="185.8" cy="370.2" rx="1" ry="0.75"/>
<path class="k" d="M176.7,371.8 L177,379.6 M178.5,372 L178.8,379.6" style="stroke-width:1.1"/>
<path class="k" d="M147.8,386.4 L118.3,405.2" style="stroke-width:0.9"/>
<path class="k" d="M158.5,390 L124.4,407.9" style="stroke-width:0.9"/>
<ellipse class="kw" cx="121.4" cy="406.5" rx="3.3" ry="1.5" transform="rotate(20 121.4 406.5)" style="stroke-width:0.9"/>
<path class="kw" d="M147.6,384.8 L165.5,376 L173.6,377 L177.6,380 L171,385.6 L172.5,387.6 L167.5,389.7 L160.5,389.8 L157.5,387.6 L149.2,387.4 Z" style="stroke-width:1.1"/>
<path class="k" d="M149.2,387.4 L151.5,384.4 L165.6,377.6 L173.6,377" style="stroke-width:0.8"/>
<path class="k" d="M151.5,384.4 L157,386.4 L170.6,380 L165.6,377.6" style="stroke-width:0.8"/>
<path class="k" d="M157,386.4 L157.5,387.6" style="stroke-width:0.8"/>
<path class="k" d="M161,381.2 L165.6,383.2" style="stroke-width:0.8"/>
<path class="k" d="M155.5,383.8 L159.6,385.4" style="stroke-width:0.8"/>
<path class="k" d="M171,385.6 L165.5,388 L160.5,389.8" style="stroke-width:0.8"/>
<path class="k" d="M173.6,377 L180,381.5" style="stroke-width:1.2"/>
<path class="k" d="M177.6,380 L182,384" style="stroke-width:1.2"/>
<path class="k" d="M171,385.6 L180,386.4" style="stroke-width:1.2"/>
<ellipse cx="187.5" cy="385.3" rx="6" ry="3" fill="#111"/>
<line class="k" x1="187.32" y1="390.03" x2="188.17" y2="381.03" style="stroke-width:0.93"/>
<line class="k" x1="193.27" y1="383.29" x2="178.02" y2="383.13" style="stroke-width:0.86"/>
<line class="k" x1="196.44" y1="388.54" x2="186.8" y2="385.64" style="stroke-width:1.26"/>
<line class="k" x1="191.88" y1="382.41" x2="184.86" y2="381.68" style="stroke-width:0.93"/>
<line class="k" x1="192.72" y1="387.21" x2="185.71" y2="381.46" style="stroke-width:1.25"/>
<line class="k" x1="194.22" y1="386.69" x2="180.94" y2="386.69" style="stroke-width:1.5"/>
<line class="k" x1="193.35" y1="385.37" x2="182.31" y2="381.67" style="stroke-width:0.85"/>
<line class="k" x1="192.51" y1="387.8" x2="179.51" y2="384.51" style="stroke-width:1.39"/>
<line class="k" x1="193.18" y1="388.62" x2="187.37" y2="380.34" style="stroke-width:0.85"/>
<line class="k" x1="194.06" y1="384.3" x2="181.48" y2="382.81" style="stroke-width:1.47"/>
<line class="k" x1="189.69" y1="382.85" x2="181.94" y2="380.96" style="stroke-width:1.36"/>
<line class="k" x1="192.44" y1="383.51" x2="181.33" y2="387.01" style="stroke-width:0.89"/>
<line class="k" x1="189.73" y1="389.54" x2="184.7" y2="384.27" style="stroke-width:1.36"/>
<line class="k" x1="195.75" y1="384.45" x2="183.19" y2="386.73" style="stroke-width:1.25"/>
<line class="k" x1="194.62" y1="382.37" x2="183.21" y2="387.05" style="stroke-width:1.03"/>
<line class="k" x1="191.45" y1="382.29" x2="184.71" y2="383.56" style="stroke-width:1.22"/>
<line class="k" x1="188.85" y1="391.55" x2="187.6" y2="382.36" style="stroke-width:0.93"/>
<line class="k" x1="194.53" y1="380" x2="179.58" y2="385.12" style="stroke-width:1.32"/>
<line class="k" x1="192.71" y1="386.29" x2="182.08" y2="381.34" style="stroke-width:1.1"/>
<line class="k" x1="189.45" y1="384.13" x2="179.08" y2="388.33" style="stroke-width:0.98"/>
<line class="k" x1="188.17" y1="384.97" x2="189.11" y2="379.57" style="stroke-width:0.96"/>
<line class="k" x1="195.43" y1="386.74" x2="179.96" y2="385.91" style="stroke-width:0.94"/>
<path class="kw" d="M191.5,386.6 L200.5,384 L203.2,386 L203,389.2 L194.4,391.4 L191.5,389.8 Z" style="stroke-width:0.9"/>
<path class="t" d="M191.5,386.6 L194.4,388.4 L203.2,386"/>
<line class="t" x1="194.4" y1="388.4" x2="194.4" y2="391.4"/>
<path class="k" d="M192,380.6 L200,378.4 L206.5,376.2" style="stroke-width:0.9"/>
<path class="k" d="M198,384.4 L203.5,381.6 L207.5,378.4" style="stroke-width:0.9"/>
<path class="t" d="M203.5,381.6 L204.6,379.2 L206.5,376.2"/>
<line class="d" x1="184.9" y1="391" x2="183.8" y2="398" style="stroke-width:1"/>
<line class="d" x1="186" y1="391" x2="188" y2="396" style="stroke-width:1"/>
<line class="d" x1="182.5" y1="401" x2="180.8" y2="406" style="stroke-width:1"/>
<line class="d" x1="178.8" y1="411.5" x2="176.4" y2="418" style="stroke-width:1"/>
<line class="d" x1="174.2" y1="424" x2="171.3" y2="431.5" style="stroke-width:1"/>
<line class="d" x1="169" y1="437.5" x2="166.2" y2="444.5" style="stroke-width:1"/>
<line class="d" x1="189.3" y1="404" x2="190.5" y2="409.5" style="stroke-width:1"/>
<line class="d" x1="191.6" y1="414.5" x2="193" y2="421" style="stroke-width:1"/>
<line class="d" x1="194.2" y1="426.5" x2="195.5" y2="432.5" style="stroke-width:1"/>
<line class="d" x1="196.3" y1="436.5" x2="197" y2="440.5" style="stroke-width:1"/>
<line class="d" x1="157" y1="444.6" x2="166.6" y2="444.6" style="stroke-width:1"/>
<line class="d" x1="191" y1="440.6" x2="197.3" y2="440.6" style="stroke-width:1"/>
<path class="d" d="M314.6,492.6 L314.55,494.1 L314.42,495.59 L314.19,497.08 L313.87,498.54" style="stroke-width:1.1;stroke:#444"/>
<path class="d" d="M311.83,504.17 L311.06,505.65 L310.22,507.08 L309.31,508.48 L308.35,509.83" style="stroke-width:1.1;stroke:#444"/>
<path class="d" d="M304.09,514.72 L302.69,516.06 L301.25,517.35 L299.77,518.6 L298.25,519.8" style="stroke-width:1.1;stroke:#444"/>
<path class="d" d="M292.23,523.93 L290.41,525.04 L288.56,526.09 L286.68,527.11 L284.79,528.08" style="stroke-width:1.1;stroke:#444"/>
<path class="d" d="M277.63,531.37 L275.55,532.21 L273.46,533.02 L271.36,533.8 L269.24,534.54" style="stroke-width:1.1;stroke:#444"/>
<path class="d" d="M261.4,536.99 L259.18,537.6 L256.95,538.19 L254.7,538.74 L252.46,539.27" style="stroke-width:1.1;stroke:#444"/>
<path class="d" d="M244.22,540.95 L241.91,541.35 L239.6,541.73 L237.28,542.08 L234.95,542.41" style="stroke-width:1.1;stroke:#444"/>
<path class="d" d="M226.49,543.38 L224.14,543.59 L221.78,543.78 L219.41,543.94 L217.05,544.08" style="stroke-width:1.1;stroke:#444"/>
<path class="d" d="M208.48,544.37 L206.1,544.4 L203.73,544.4 L201.35,544.37 L198.98,544.33" style="stroke-width:1.1;stroke:#444"/>
<path class="d" d="M190.39,543.95 L188.02,543.79 L185.66,543.61 L183.3,543.4 L180.94,543.16" style="stroke-width:1.1;stroke:#444"/>
<path class="d" d="M172.42,542.1 L170.09,541.74 L167.76,541.36 L165.44,540.96 L163.12,540.52" style="stroke-width:1.1;stroke:#444"/>
<path class="d" d="M154.77,538.71 L152.51,538.15 L150.26,537.56 L148.02,536.94 L145.79,536.28" style="stroke-width:1.1;stroke:#444"/>
<path class="d" d="M137.76,533.63 L135.64,532.83 L133.52,532 L131.42,531.13 L129.34,530.23" style="stroke-width:1.1;stroke:#444"/>
<path class="d" d="M121.9,526.57 L120,525.51 L118.13,524.4 L116.29,523.25 L114.47,522.05" style="stroke-width:1.1;stroke:#444"/>
<path class="d" d="M108.14,517.17 L106.66,515.83 L105.24,514.44 L103.87,512.99 L102.56,511.49" style="stroke-width:1.1;stroke:#444"/>
<path class="d" d="M98.36,505.32 L97.6,503.81 L96.92,502.25 L96.34,500.66 L95.85,499.03" style="stroke-width:1.1;stroke:#444"/>
<path class="d" d="M95,492.52 L95.05,491.03 L95.19,489.53 L95.42,488.05 L95.74,486.58" style="stroke-width:1.1;stroke:#444"/>
<path class="d" d="M97.81,480.96 L98.58,479.49 L99.42,478.05 L100.33,476.66 L101.3,475.31" style="stroke-width:1.1;stroke:#444"/>
<path class="d" d="M105.56,470.43 L106.96,469.09 L108.41,467.8 L109.89,466.55 L111.41,465.36" style="stroke-width:1.1;stroke:#444"/>
<path class="d" d="M117.43,461.23 L119.26,460.13 L121.11,459.07 L122.98,458.06 L124.88,457.08" style="stroke-width:1.1;stroke:#444"/>
<path class="d" d="M132.04,453.81 L134.12,452.96 L136.21,452.15 L138.32,451.38 L140.43,450.63" style="stroke-width:1.1;stroke:#444"/>
<path class="d" d="M148.27,448.19 L150.5,447.58 L152.73,446.99 L154.98,446.44 L157.23,445.92" style="stroke-width:1.1;stroke:#444"/>
<path class="d" d="M237.29,443.12 L239.62,443.47 L241.94,443.85 L244.26,444.26 L246.58,444.7" style="stroke-width:1.1;stroke:#444"/>
<path class="d" d="M254.93,446.51 L257.19,447.08 L259.43,447.67 L261.68,448.29 L263.91,448.95" style="stroke-width:1.1;stroke:#444"/>
<path class="d" d="M271.93,451.61 L274.06,452.41 L276.17,453.24 L278.27,454.11 L280.36,455.01" style="stroke-width:1.1;stroke:#444"/>
<path class="d" d="M287.79,458.68 L289.69,459.75 L291.56,460.85 L293.4,462 L295.21,463.21" style="stroke-width:1.1;stroke:#444"/>
<path class="d" d="M301.54,468.1 L303.01,469.44 L304.44,470.83 L305.8,472.28 L307.11,473.79" style="stroke-width:1.1;stroke:#444"/>
<path class="d" d="M311.28,479.97 L312.04,481.49 L312.71,483.04 L313.29,484.64 L313.78,486.26" style="stroke-width:1.1;stroke:#444"/>
<rect x="181.7" y="439" width="8.9" height="22" fill="#fff"/>
<path class="k" d="M182.7,441.5 V460.6 H189.6 V441.5" style="stroke-width:0.9"/>
<path class="k" d="M184.3,460.6 V469.4 H188.5 V460.6" style="stroke-width:0.9"/>
<rect x="211.9" y="439" width="8.6" height="22" fill="#fff"/>
<path class="k" d="M212.9,441.5 V460.6 H219.5 V441.5" style="stroke-width:0.9"/>
<path class="k" d="M214.2,460.6 V469.4 H218.3 V460.6" style="stroke-width:0.9"/>
<line class="k" x1="182.7" y1="441.5" x2="191" y2="441.5" style="stroke-width:0.9"/>
<line class="k" x1="212.9" y1="441.5" x2="221" y2="441.5" style="stroke-width:0.9"/>
<path class="t" d="M157.65,451.5 V471.7" style="stroke-width:1.1"/>
<path class="t" d="M163.15,451.5 V471.7" style="stroke-width:1.1"/>
<path class="t" d="M157.65,471.7 L152.9,471.1 L160.4,481.2 L167.9,471.1 L163.15,471.7" style="stroke-width:1.1"/>
<rect class="kw" x="175.4" y="488" width="23.6" height="32" style="stroke-width:0.9"/>
<rect class="kw" x="204.6" y="488" width="22.9" height="32" style="stroke-width:0.9"/>
<rect class="kw" x="195.6" y="500.8" width="11.6" height="6.4" rx="3" style="stroke-width:0.9"/>
<ellipse class="kw" cx="201.6" cy="504" rx="3.2" ry="1.8" style="stroke-width:0.9"/>
<ellipse class="kw" cx="186.9" cy="497.3" rx="9" ry="4.5" style="stroke-width:1.2"/>
<ellipse class="k" cx="186.9" cy="497.3" rx="6.9" ry="3.2" style="stroke-width:0.8"/>
<path class="k" d="M181.1,499 L191.3,494.6 M182.5,500 L192.7,495.6" style="stroke-width:0.8"/>
<ellipse class="kw" cx="216.1" cy="497.3" rx="9" ry="4.5" style="stroke-width:1.2"/>
<ellipse class="k" cx="216.1" cy="497.3" rx="6.9" ry="3.2" style="stroke-width:0.8"/>
<path class="k" d="M210.3,499 L220.5,494.6 M211.7,500 L221.9,495.6" style="stroke-width:0.8"/>
<ellipse class="kw" cx="186.9" cy="511" rx="9" ry="4.5" style="stroke-width:1.2"/>
<ellipse class="k" cx="186.9" cy="511" rx="6.9" ry="3.2" style="stroke-width:0.8"/>
<path class="k" d="M181.1,512.7 L191.3,508.3 M182.5,513.7 L192.7,509.3" style="stroke-width:0.8"/>
<ellipse class="kw" cx="216.1" cy="511" rx="9" ry="4.5" style="stroke-width:1.2"/>
<ellipse class="k" cx="216.1" cy="511" rx="6.9" ry="3.2" style="stroke-width:0.8"/>
<path class="k" d="M210.3,512.7 L220.5,508.3 M211.7,513.7 L221.9,509.3" style="stroke-width:0.8"/>
<line class="t" x1="175.4" y1="503.7" x2="178.6" y2="503.7"/>
<line class="t" x1="195.8" y1="503.7" x2="199" y2="503.7"/>
<line class="t" x1="204.6" y1="503.7" x2="207.6" y2="503.7"/>
<line class="t" x1="224.8" y1="503.7" x2="227.5" y2="503.7"/>
<line class="t" x1="175.4" y1="516.6" x2="199" y2="516.6"/>
<line class="t" x1="204.6" y1="516.6" x2="227.5" y2="516.6"/>
<text class="sans" x="180" y="483.5" font-size="14" textLength="13.6" lengthAdjust="spacingAndGlyphs" stroke="#000" stroke-width="0.7">L</text>
<text class="sans" x="210" y="483.5" font-size="14" textLength="15" lengthAdjust="spacingAndGlyphs" stroke="#000" stroke-width="0.7">N</text>
<text class="sans" x="180" y="535.5" font-size="14" textLength="13.6" lengthAdjust="spacingAndGlyphs" stroke="#000" stroke-width="0.7">L</text>
<text class="sans" x="210" y="535.5" font-size="14" textLength="15" lengthAdjust="spacingAndGlyphs" stroke="#000" stroke-width="0.7">N</text>
<text class="dg" x="834.59" y="219" font-size="20.58" textLength="28.47" lengthAdjust="spacingAndGlyphs">7</text>
<text class="dg" x="834.59" y="251.8" font-size="21.67" textLength="28.47" lengthAdjust="spacingAndGlyphs">6</text>
<text class="dg" x="834.59" y="282.6" font-size="20.71" textLength="28.47" lengthAdjust="spacingAndGlyphs">5</text>
<text class="dg" x="811.97" y="347" font-size="20.58" textLength="15.27" lengthAdjust="spacingAndGlyphs">1</text>
<text class="dg" x="182.61" y="296.4" font-size="19.2" textLength="26.66" lengthAdjust="spacingAndGlyphs">2</text>
<text class="dg" x="239.4" y="397" font-size="20.44" textLength="27.56" lengthAdjust="spacingAndGlyphs">3</text>
<text class="dg" x="300.9" y="379.3" font-size="19.62" textLength="25.88" lengthAdjust="spacingAndGlyphs">4</text>
</svg>
</body></html>
